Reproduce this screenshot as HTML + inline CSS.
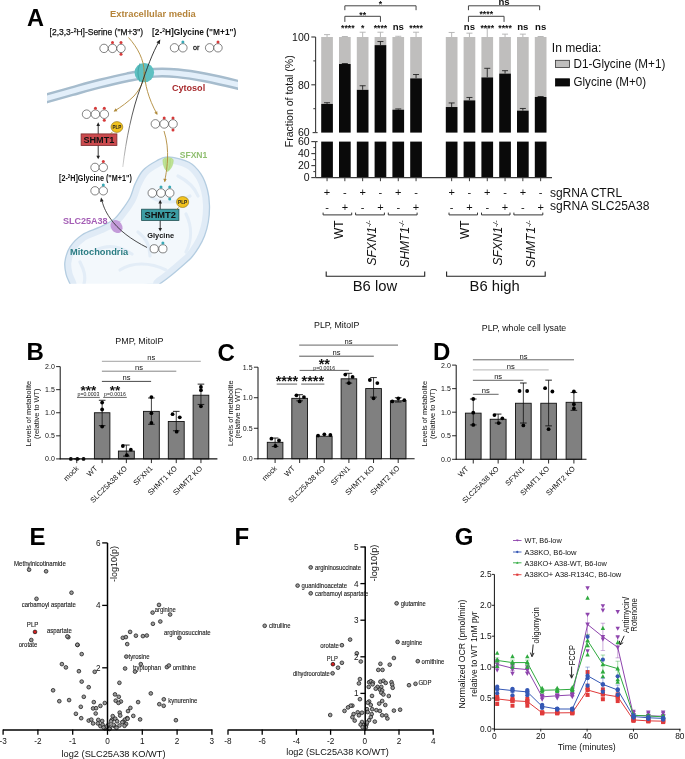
<!DOCTYPE html>
<html><head><meta charset="utf-8"><style>
html,body{margin:0;padding:0;background:#fff;}
svg{display:block;font-family:"Liberation Sans", sans-serif;}
.g{will-change:transform;}
</style></head><body>
<svg class="g" width="685" height="759" viewBox="0 0 685 759">
<rect width="685" height="759" fill="#fff"/>
<rect x="321.20" y="37.00" width="11.70" height="66.92" fill="#bfbebd" stroke="none" stroke-width="0" />
<rect x="321.20" y="103.92" width="11.70" height="28.68" fill="#0a0a0a" stroke="none" stroke-width="0" />
<rect x="321.20" y="141.60" width="11.70" height="36.00" fill="#0a0a0a" stroke="none" stroke-width="0" />
<line x1="327.05" y1="37.00" x2="327.05" y2="34.61" stroke="#b0b0b0" stroke-width="0.9" />
<line x1="324.05" y1="34.61" x2="330.05" y2="34.61" stroke="#b0b0b0" stroke-width="0.9" />
<line x1="327.05" y1="103.92" x2="327.05" y2="102.73" stroke="#222" stroke-width="0.9" />
<line x1="324.05" y1="102.73" x2="330.05" y2="102.73" stroke="#222" stroke-width="0.9" />
<rect x="339.00" y="37.00" width="11.70" height="27.01" fill="#bfbebd" stroke="none" stroke-width="0" />
<rect x="339.00" y="64.01" width="11.70" height="68.59" fill="#0a0a0a" stroke="none" stroke-width="0" />
<rect x="339.00" y="141.60" width="11.70" height="36.00" fill="#0a0a0a" stroke="none" stroke-width="0" />
<line x1="344.85" y1="37.00" x2="344.85" y2="36.52" stroke="#b0b0b0" stroke-width="0.9" />
<line x1="341.85" y1="36.52" x2="347.85" y2="36.52" stroke="#b0b0b0" stroke-width="0.9" />
<line x1="344.85" y1="64.01" x2="344.85" y2="63.53" stroke="#222" stroke-width="0.9" />
<line x1="341.85" y1="63.53" x2="347.85" y2="63.53" stroke="#222" stroke-width="0.9" />
<rect x="356.80" y="37.00" width="11.70" height="52.82" fill="#bfbebd" stroke="none" stroke-width="0" />
<rect x="356.80" y="89.82" width="11.70" height="42.78" fill="#0a0a0a" stroke="none" stroke-width="0" />
<rect x="356.80" y="141.60" width="11.70" height="36.00" fill="#0a0a0a" stroke="none" stroke-width="0" />
<line x1="362.65" y1="37.00" x2="362.65" y2="32.22" stroke="#b0b0b0" stroke-width="0.9" />
<line x1="359.65" y1="32.22" x2="365.65" y2="32.22" stroke="#b0b0b0" stroke-width="0.9" />
<line x1="362.65" y1="89.82" x2="362.65" y2="85.76" stroke="#222" stroke-width="0.9" />
<line x1="359.65" y1="85.76" x2="365.65" y2="85.76" stroke="#222" stroke-width="0.9" />
<rect x="374.60" y="37.00" width="11.70" height="8.13" fill="#bfbebd" stroke="none" stroke-width="0" />
<rect x="374.60" y="45.13" width="11.70" height="87.47" fill="#0a0a0a" stroke="none" stroke-width="0" />
<rect x="374.60" y="141.60" width="11.70" height="36.00" fill="#0a0a0a" stroke="none" stroke-width="0" />
<line x1="380.45" y1="37.00" x2="380.45" y2="32.22" stroke="#b0b0b0" stroke-width="0.9" />
<line x1="377.45" y1="32.22" x2="383.45" y2="32.22" stroke="#b0b0b0" stroke-width="0.9" />
<line x1="380.45" y1="45.13" x2="380.45" y2="41.54" stroke="#222" stroke-width="0.9" />
<line x1="377.45" y1="41.54" x2="383.45" y2="41.54" stroke="#222" stroke-width="0.9" />
<rect x="392.40" y="37.00" width="11.70" height="72.66" fill="#bfbebd" stroke="none" stroke-width="0" />
<rect x="392.40" y="109.66" width="11.70" height="22.94" fill="#0a0a0a" stroke="none" stroke-width="0" />
<rect x="392.40" y="141.60" width="11.70" height="36.00" fill="#0a0a0a" stroke="none" stroke-width="0" />
<line x1="398.25" y1="37.00" x2="398.25" y2="36.28" stroke="#b0b0b0" stroke-width="0.9" />
<line x1="395.25" y1="36.28" x2="401.25" y2="36.28" stroke="#b0b0b0" stroke-width="0.9" />
<line x1="398.25" y1="109.66" x2="398.25" y2="108.94" stroke="#222" stroke-width="0.9" />
<line x1="395.25" y1="108.94" x2="401.25" y2="108.94" stroke="#222" stroke-width="0.9" />
<rect x="410.20" y="37.00" width="11.70" height="41.35" fill="#bfbebd" stroke="none" stroke-width="0" />
<rect x="410.20" y="78.35" width="11.70" height="54.25" fill="#0a0a0a" stroke="none" stroke-width="0" />
<rect x="410.20" y="141.60" width="11.70" height="36.00" fill="#0a0a0a" stroke="none" stroke-width="0" />
<line x1="416.05" y1="37.00" x2="416.05" y2="32.22" stroke="#b0b0b0" stroke-width="0.9" />
<line x1="413.05" y1="32.22" x2="419.05" y2="32.22" stroke="#b0b0b0" stroke-width="0.9" />
<line x1="416.05" y1="78.35" x2="416.05" y2="74.52" stroke="#222" stroke-width="0.9" />
<line x1="413.05" y1="74.52" x2="419.05" y2="74.52" stroke="#222" stroke-width="0.9" />
<rect x="445.80" y="37.00" width="11.70" height="70.03" fill="#bfbebd" stroke="none" stroke-width="0" />
<rect x="445.80" y="107.03" width="11.70" height="25.57" fill="#0a0a0a" stroke="none" stroke-width="0" />
<rect x="445.80" y="141.60" width="11.70" height="36.00" fill="#0a0a0a" stroke="none" stroke-width="0" />
<line x1="451.65" y1="37.00" x2="451.65" y2="32.46" stroke="#b0b0b0" stroke-width="0.9" />
<line x1="448.65" y1="32.46" x2="454.65" y2="32.46" stroke="#b0b0b0" stroke-width="0.9" />
<line x1="451.65" y1="107.03" x2="451.65" y2="102.96" stroke="#222" stroke-width="0.9" />
<line x1="448.65" y1="102.96" x2="454.65" y2="102.96" stroke="#222" stroke-width="0.9" />
<rect x="463.60" y="37.00" width="11.70" height="63.34" fill="#bfbebd" stroke="none" stroke-width="0" />
<rect x="463.60" y="100.34" width="11.70" height="32.27" fill="#0a0a0a" stroke="none" stroke-width="0" />
<rect x="463.60" y="141.60" width="11.70" height="36.00" fill="#0a0a0a" stroke="none" stroke-width="0" />
<line x1="469.45" y1="37.00" x2="469.45" y2="33.18" stroke="#b0b0b0" stroke-width="0.9" />
<line x1="466.45" y1="33.18" x2="472.45" y2="33.18" stroke="#b0b0b0" stroke-width="0.9" />
<line x1="469.45" y1="100.34" x2="469.45" y2="97.47" stroke="#222" stroke-width="0.9" />
<line x1="466.45" y1="97.47" x2="472.45" y2="97.47" stroke="#222" stroke-width="0.9" />
<rect x="481.40" y="37.00" width="11.70" height="40.39" fill="#bfbebd" stroke="none" stroke-width="0" />
<rect x="481.40" y="77.39" width="11.70" height="55.21" fill="#0a0a0a" stroke="none" stroke-width="0" />
<rect x="481.40" y="141.60" width="11.70" height="36.00" fill="#0a0a0a" stroke="none" stroke-width="0" />
<line x1="487.25" y1="37.00" x2="487.25" y2="27.92" stroke="#b0b0b0" stroke-width="0.9" />
<line x1="484.25" y1="27.92" x2="490.25" y2="27.92" stroke="#b0b0b0" stroke-width="0.9" />
<line x1="487.25" y1="77.39" x2="487.25" y2="68.31" stroke="#222" stroke-width="0.9" />
<line x1="484.25" y1="68.31" x2="490.25" y2="68.31" stroke="#222" stroke-width="0.9" />
<rect x="499.20" y="37.00" width="11.70" height="36.57" fill="#bfbebd" stroke="none" stroke-width="0" />
<rect x="499.20" y="73.57" width="11.70" height="59.03" fill="#0a0a0a" stroke="none" stroke-width="0" />
<rect x="499.20" y="141.60" width="11.70" height="36.00" fill="#0a0a0a" stroke="none" stroke-width="0" />
<line x1="505.05" y1="37.00" x2="505.05" y2="34.13" stroke="#b0b0b0" stroke-width="0.9" />
<line x1="502.05" y1="34.13" x2="508.05" y2="34.13" stroke="#b0b0b0" stroke-width="0.9" />
<line x1="505.05" y1="73.57" x2="505.05" y2="70.70" stroke="#222" stroke-width="0.9" />
<line x1="502.05" y1="70.70" x2="508.05" y2="70.70" stroke="#222" stroke-width="0.9" />
<rect x="517.00" y="37.00" width="11.70" height="73.61" fill="#bfbebd" stroke="none" stroke-width="0" />
<rect x="517.00" y="110.61" width="11.70" height="21.99" fill="#0a0a0a" stroke="none" stroke-width="0" />
<rect x="517.00" y="141.60" width="11.70" height="36.00" fill="#0a0a0a" stroke="none" stroke-width="0" />
<line x1="522.85" y1="37.00" x2="522.85" y2="34.13" stroke="#b0b0b0" stroke-width="0.9" />
<line x1="519.85" y1="34.13" x2="525.85" y2="34.13" stroke="#b0b0b0" stroke-width="0.9" />
<line x1="522.85" y1="110.61" x2="522.85" y2="108.46" stroke="#222" stroke-width="0.9" />
<line x1="519.85" y1="108.46" x2="525.85" y2="108.46" stroke="#222" stroke-width="0.9" />
<rect x="534.80" y="37.00" width="11.70" height="59.99" fill="#bfbebd" stroke="none" stroke-width="0" />
<rect x="534.80" y="96.99" width="11.70" height="35.61" fill="#0a0a0a" stroke="none" stroke-width="0" />
<rect x="534.80" y="141.60" width="11.70" height="36.00" fill="#0a0a0a" stroke="none" stroke-width="0" />
<line x1="540.65" y1="37.00" x2="540.65" y2="36.52" stroke="#b0b0b0" stroke-width="0.9" />
<line x1="537.65" y1="36.52" x2="543.65" y2="36.52" stroke="#b0b0b0" stroke-width="0.9" />
<line x1="540.65" y1="96.99" x2="540.65" y2="96.51" stroke="#222" stroke-width="0.9" />
<line x1="537.65" y1="96.51" x2="543.65" y2="96.51" stroke="#222" stroke-width="0.9" />
<line x1="315.60" y1="37.00" x2="315.60" y2="132.60" stroke="#3a3a3a" stroke-width="1.1" />
<line x1="311.30" y1="37.00" x2="315.60" y2="37.00" stroke="#3a3a3a" stroke-width="1.1" />
<line x1="311.30" y1="84.80" x2="315.60" y2="84.80" stroke="#3a3a3a" stroke-width="1.1" />
<line x1="312.60" y1="132.60" x2="315.60" y2="132.60" stroke="#3a3a3a" stroke-width="1.1" />
<line x1="315.60" y1="132.60" x2="317.60" y2="132.60" stroke="#3a3a3a" stroke-width="1.1" />
<line x1="313.30" y1="60.90" x2="315.60" y2="60.90" stroke="#3a3a3a" stroke-width="1" />
<line x1="313.30" y1="108.70" x2="315.60" y2="108.70" stroke="#3a3a3a" stroke-width="1" />
<line x1="315.60" y1="141.60" x2="315.60" y2="177.60" stroke="#3a3a3a" stroke-width="1.1" />
<line x1="315.60" y1="141.60" x2="317.60" y2="141.60" stroke="#3a3a3a" stroke-width="1.1" />
<line x1="311.30" y1="141.60" x2="315.60" y2="141.60" stroke="#3a3a3a" stroke-width="1.1" />
<line x1="311.30" y1="153.60" x2="315.60" y2="153.60" stroke="#3a3a3a" stroke-width="1.1" />
<line x1="311.30" y1="165.60" x2="315.60" y2="165.60" stroke="#3a3a3a" stroke-width="1.1" />
<line x1="311.30" y1="177.60" x2="315.60" y2="177.60" stroke="#3a3a3a" stroke-width="1.1" />
<line x1="313.30" y1="147.60" x2="315.60" y2="147.60" stroke="#3a3a3a" stroke-width="1" />
<line x1="313.30" y1="159.60" x2="315.60" y2="159.60" stroke="#3a3a3a" stroke-width="1" />
<line x1="313.30" y1="171.60" x2="315.60" y2="171.60" stroke="#3a3a3a" stroke-width="1" />
<line x1="315.60" y1="177.60" x2="552.00" y2="177.60" stroke="#3a3a3a" stroke-width="1.1" />
<line x1="327.05" y1="177.60" x2="327.05" y2="181.20" stroke="#3a3a3a" stroke-width="1" />
<line x1="344.85" y1="177.60" x2="344.85" y2="181.20" stroke="#3a3a3a" stroke-width="1" />
<line x1="362.65" y1="177.60" x2="362.65" y2="181.20" stroke="#3a3a3a" stroke-width="1" />
<line x1="380.45" y1="177.60" x2="380.45" y2="181.20" stroke="#3a3a3a" stroke-width="1" />
<line x1="398.25" y1="177.60" x2="398.25" y2="181.20" stroke="#3a3a3a" stroke-width="1" />
<line x1="416.05" y1="177.60" x2="416.05" y2="181.20" stroke="#3a3a3a" stroke-width="1" />
<line x1="451.65" y1="177.60" x2="451.65" y2="181.20" stroke="#3a3a3a" stroke-width="1" />
<line x1="469.45" y1="177.60" x2="469.45" y2="181.20" stroke="#3a3a3a" stroke-width="1" />
<line x1="487.25" y1="177.60" x2="487.25" y2="181.20" stroke="#3a3a3a" stroke-width="1" />
<line x1="505.05" y1="177.60" x2="505.05" y2="181.20" stroke="#3a3a3a" stroke-width="1" />
<line x1="522.85" y1="177.60" x2="522.85" y2="181.20" stroke="#3a3a3a" stroke-width="1" />
<line x1="540.65" y1="177.60" x2="540.65" y2="181.20" stroke="#3a3a3a" stroke-width="1" />
<text x="309.60" y="40.80" font-size="10.5" text-anchor="end" fill="#111" >100</text>
<text x="309.60" y="88.60" font-size="10.5" text-anchor="end" fill="#111" >80</text>
<text x="309.60" y="136.40" font-size="10.5" text-anchor="end" fill="#111" >60</text>
<text x="309.60" y="145.40" font-size="10.5" text-anchor="end" fill="#111" >60</text>
<text x="309.60" y="157.40" font-size="10.5" text-anchor="end" fill="#111" >40</text>
<text x="309.60" y="169.40" font-size="10.5" text-anchor="end" fill="#111" >20</text>
<text x="309.60" y="181.40" font-size="10.5" text-anchor="end" fill="#111" >0</text>
<text x="293.20" y="101.30" font-size="10.5" text-anchor="middle" fill="#111" textLength="92.00" lengthAdjust="spacingAndGlyphs" transform="rotate(-90 293.20 101.30)" >Fraction of total (%)</text>
<text x="347.85" y="31.20" font-size="8.7" text-anchor="middle" fill="#111" font-weight="bold" >****</text>
<text x="362.65" y="31.20" font-size="8.7" text-anchor="middle" fill="#111" font-weight="bold" >*</text>
<text x="380.45" y="31.20" font-size="8.7" text-anchor="middle" fill="#111" font-weight="bold" >****</text>
<text x="398.25" y="29.60" font-size="9.6" text-anchor="middle" fill="#111" font-weight="bold" >ns</text>
<text x="416.05" y="31.20" font-size="8.7" text-anchor="middle" fill="#111" font-weight="bold" >****</text>
<text x="469.45" y="29.60" font-size="9.6" text-anchor="middle" fill="#111" font-weight="bold" >ns</text>
<text x="487.25" y="31.20" font-size="8.7" text-anchor="middle" fill="#111" font-weight="bold" >****</text>
<text x="505.05" y="31.20" font-size="8.7" text-anchor="middle" fill="#111" font-weight="bold" >****</text>
<text x="522.85" y="29.60" font-size="9.6" text-anchor="middle" fill="#111" font-weight="bold" >ns</text>
<text x="540.65" y="29.60" font-size="9.6" text-anchor="middle" fill="#111" font-weight="bold" >ns</text>
<path d="M344.85 21.90V16.30H380.45V21.90" fill="none" stroke="#444" stroke-width="1"/>
<text x="362.65" y="17.60" font-size="8.7" text-anchor="middle" fill="#111" font-weight="bold" >**</text>
<path d="M344.85 10.20V5.80H416.05V10.20" fill="none" stroke="#444" stroke-width="1"/>
<text x="380.45" y="7.00" font-size="8.7" text-anchor="middle" fill="#111" font-weight="bold" >*</text>
<path d="M468.45 21.90V16.30H504.05V21.90" fill="none" stroke="#444" stroke-width="1"/>
<text x="486.25" y="17.20" font-size="8.7" text-anchor="middle" fill="#111" font-weight="bold" >****</text>
<path d="M468.45 10.20V5.80H539.65V10.20" fill="none" stroke="#444" stroke-width="1"/>
<text x="504.05" y="5.00" font-size="9.6" text-anchor="middle" fill="#111" font-weight="bold" >ns</text>
<text x="551.80" y="52.00" font-size="12" text-anchor="start" fill="#111" textLength="49.50" lengthAdjust="spacingAndGlyphs" >In media:</text>
<rect x="555.60" y="60.30" width="14.00" height="7.20" fill="#bfbebd" stroke="#333" stroke-width="0.8" />
<text x="573.50" y="67.50" font-size="12" text-anchor="start" fill="#111" textLength="91.80" lengthAdjust="spacingAndGlyphs" >D1-Glycine (M+1)</text>
<rect x="555.60" y="78.80" width="14.00" height="7.20" fill="#0a0a0a" stroke="#000" stroke-width="0.8" />
<text x="573.50" y="86.40" font-size="12" text-anchor="start" fill="#111" textLength="72.50" lengthAdjust="spacingAndGlyphs" >Glycine (M+0)</text>
<text x="327.05" y="195.80" font-size="11" text-anchor="middle" fill="#111" >+</text>
<text x="327.05" y="210.60" font-size="11" text-anchor="middle" fill="#111" >-</text>
<text x="344.85" y="195.80" font-size="11" text-anchor="middle" fill="#111" >-</text>
<text x="344.85" y="210.60" font-size="11" text-anchor="middle" fill="#111" >+</text>
<text x="362.65" y="195.80" font-size="11" text-anchor="middle" fill="#111" >+</text>
<text x="362.65" y="210.60" font-size="11" text-anchor="middle" fill="#111" >-</text>
<text x="380.45" y="195.80" font-size="11" text-anchor="middle" fill="#111" >-</text>
<text x="380.45" y="210.60" font-size="11" text-anchor="middle" fill="#111" >+</text>
<text x="398.25" y="195.80" font-size="11" text-anchor="middle" fill="#111" >+</text>
<text x="398.25" y="210.60" font-size="11" text-anchor="middle" fill="#111" >-</text>
<text x="416.05" y="195.80" font-size="11" text-anchor="middle" fill="#111" >-</text>
<text x="416.05" y="210.60" font-size="11" text-anchor="middle" fill="#111" >+</text>
<text x="451.65" y="195.80" font-size="11" text-anchor="middle" fill="#111" >+</text>
<text x="451.65" y="210.60" font-size="11" text-anchor="middle" fill="#111" >-</text>
<text x="469.45" y="195.80" font-size="11" text-anchor="middle" fill="#111" >-</text>
<text x="469.45" y="210.60" font-size="11" text-anchor="middle" fill="#111" >+</text>
<text x="487.25" y="195.80" font-size="11" text-anchor="middle" fill="#111" >+</text>
<text x="487.25" y="210.60" font-size="11" text-anchor="middle" fill="#111" >-</text>
<text x="505.05" y="195.80" font-size="11" text-anchor="middle" fill="#111" >-</text>
<text x="505.05" y="210.60" font-size="11" text-anchor="middle" fill="#111" >+</text>
<text x="522.85" y="195.80" font-size="11" text-anchor="middle" fill="#111" >+</text>
<text x="522.85" y="210.60" font-size="11" text-anchor="middle" fill="#111" >-</text>
<text x="540.65" y="195.80" font-size="11" text-anchor="middle" fill="#111" >-</text>
<text x="540.65" y="210.60" font-size="11" text-anchor="middle" fill="#111" >+</text>
<text x="549.90" y="196.50" font-size="12" text-anchor="start" fill="#111" textLength="72.20" lengthAdjust="spacingAndGlyphs" >sgRNA CTRL</text>
<text x="549.90" y="210.20" font-size="12" text-anchor="start" fill="#111" textLength="99.50" lengthAdjust="spacingAndGlyphs" >sgRNA SLC25A38</text>
<path d="M323.10 212.6V214.9H351.70V212.6" fill="none" stroke="#333" stroke-width="1"/>
<path d="M355.60 212.6V214.9H384.40V212.6" fill="none" stroke="#333" stroke-width="1"/>
<path d="M388.30 212.6V214.9H417.10V212.6" fill="none" stroke="#333" stroke-width="1"/>
<path d="M449.00 212.6V214.9H477.50V212.6" fill="none" stroke="#333" stroke-width="1"/>
<path d="M481.50 212.6V214.9H510.00V212.6" fill="none" stroke="#333" stroke-width="1"/>
<path d="M513.90 212.6V214.9H542.80V212.6" fill="none" stroke="#333" stroke-width="1"/>
<text x="343.20" y="220.30" font-size="12" text-anchor="end" fill="#111" transform="rotate(-90 343.20 220.30)" >WT</text>
<text x="375.90" y="220.30" font-size="12" text-anchor="end" fill="#111" font-style="italic" transform="rotate(-90 375.90 220.30)" >SFXN1<tspan font-size="7" dy="-4.5">-/-</tspan></text>
<text x="408.60" y="220.30" font-size="12" text-anchor="end" fill="#111" font-style="italic" transform="rotate(-90 408.60 220.30)" >SHMT1<tspan font-size="7" dy="-4.5">-/-</tspan></text>
<text x="469.40" y="220.30" font-size="12" text-anchor="end" fill="#111" transform="rotate(-90 469.40 220.30)" >WT</text>
<text x="502.30" y="220.30" font-size="12" text-anchor="end" fill="#111" font-style="italic" transform="rotate(-90 502.30 220.30)" >SFXN1<tspan font-size="7" dy="-4.5">-/-</tspan></text>
<text x="535.10" y="220.30" font-size="12" text-anchor="end" fill="#111" font-style="italic" transform="rotate(-90 535.10 220.30)" >SHMT1<tspan font-size="7" dy="-4.5">-/-</tspan></text>
<path d="M326.2 271.6V276.3H424.7V271.6" fill="none" stroke="#222" stroke-width="1.1"/>
<path d="M446.6 271.6V276.2H545.2V271.6" fill="none" stroke="#222" stroke-width="1.1"/>
<text x="374.90" y="290.80" font-size="14.8" text-anchor="middle" fill="#111" >B6 low</text>
<text x="494.70" y="290.80" font-size="14.8" text-anchor="middle" fill="#111" >B6 high</text>
<defs><clipPath id="memclip"><rect x="46.9" y="40" width="191.2" height="80"/></clipPath></defs>
<g clip-path="url(#memclip)"><path d="M38.00 101.00C39.48 100.55 41.28 99.92 46.90 98.30C52.52 96.68 62.93 93.73 71.70 91.30C80.47 88.87 90.25 86.03 99.50 83.70C108.75 81.37 118.08 79.12 127.20 77.30C136.32 75.48 145.78 73.47 154.20 72.80C162.62 72.13 169.15 72.52 177.70 73.30C186.25 74.08 195.43 75.58 205.50 77.50C215.57 79.42 231.35 83.17 238.10 84.80C244.85 86.43 244.68 86.88 246.00 87.30" fill="none" stroke="#a6bccd" stroke-width="10"/>
<path d="M38.00 101.00C39.48 100.55 41.28 99.92 46.90 98.30C52.52 96.68 62.93 93.73 71.70 91.30C80.47 88.87 90.25 86.03 99.50 83.70C108.75 81.37 118.08 79.12 127.20 77.30C136.32 75.48 145.78 73.47 154.20 72.80C162.62 72.13 169.15 72.52 177.70 73.30C186.25 74.08 195.43 75.58 205.50 77.50C215.57 79.42 231.35 83.17 238.10 84.80C244.85 86.43 244.68 86.88 246.00 87.30" fill="none" stroke="#e3effa" stroke-width="5.2"/></g>
<defs><clipPath id="mclip"><rect x="0" y="0" width="280" height="283.8"/></clipPath><clipPath id="minner"><path d="M168.10 156.80C173.55 157.02 183.52 159.40 189.00 162.30C194.48 165.20 197.92 169.58 201.00 174.20C204.08 178.82 206.08 184.75 207.50 190.00C208.92 195.25 209.37 200.37 209.50 205.70C209.63 211.03 209.13 216.95 208.30 222.00C207.47 227.05 206.07 231.82 204.50 236.00C202.93 240.18 201.07 243.52 198.90 247.10C196.73 250.68 194.03 254.57 191.50 257.50C188.97 260.43 187.22 261.62 183.70 264.70C180.18 267.78 174.32 272.85 170.40 276.00C166.48 279.15 163.60 281.27 160.20 283.60C156.80 285.93 164.70 288.60 150.00 290.00C135.30 291.40 85.35 293.03 72.00 292.00C58.65 290.97 70.88 286.73 69.90 283.80C68.92 280.87 66.93 278.03 66.10 274.40C65.27 270.77 64.27 266.55 64.90 262.00C65.53 257.45 67.00 251.65 69.90 247.10C72.80 242.55 77.35 238.02 82.30 234.70C87.25 231.38 94.43 229.68 99.60 227.20C104.77 224.72 109.57 222.68 113.30 219.80C117.03 216.92 119.22 213.57 122.00 209.90C124.78 206.23 127.78 202.22 130.00 197.80C132.22 193.38 133.12 188.00 135.30 183.40C137.48 178.80 139.60 173.93 143.10 170.20C146.60 166.47 152.13 163.23 156.30 161.00C160.47 158.77 162.65 156.58 168.10 156.80Z"/></clipPath></defs>
<g clip-path="url(#mclip)">
<path d="M168.10 156.80C173.55 157.02 183.52 159.40 189.00 162.30C194.48 165.20 197.92 169.58 201.00 174.20C204.08 178.82 206.08 184.75 207.50 190.00C208.92 195.25 209.37 200.37 209.50 205.70C209.63 211.03 209.13 216.95 208.30 222.00C207.47 227.05 206.07 231.82 204.50 236.00C202.93 240.18 201.07 243.52 198.90 247.10C196.73 250.68 194.03 254.57 191.50 257.50C188.97 260.43 187.22 261.62 183.70 264.70C180.18 267.78 174.32 272.85 170.40 276.00C166.48 279.15 163.60 281.27 160.20 283.60C156.80 285.93 164.70 288.60 150.00 290.00C135.30 291.40 85.35 293.03 72.00 292.00C58.65 290.97 70.88 286.73 69.90 283.80C68.92 280.87 66.93 278.03 66.10 274.40C65.27 270.77 64.27 266.55 64.90 262.00C65.53 257.45 67.00 251.65 69.90 247.10C72.80 242.55 77.35 238.02 82.30 234.70C87.25 231.38 94.43 229.68 99.60 227.20C104.77 224.72 109.57 222.68 113.30 219.80C117.03 216.92 119.22 213.57 122.00 209.90C124.78 206.23 127.78 202.22 130.00 197.80C132.22 193.38 133.12 188.00 135.30 183.40C137.48 178.80 139.60 173.93 143.10 170.20C146.60 166.47 152.13 163.23 156.30 161.00C160.47 158.77 162.65 156.58 168.10 156.80Z" fill="#f3f8fc"/>
<g clip-path="url(#minner)">
<path d="M168.10 156.80C173.55 157.02 183.52 159.40 189.00 162.30C194.48 165.20 197.92 169.58 201.00 174.20C204.08 178.82 206.08 184.75 207.50 190.00C208.92 195.25 209.37 200.37 209.50 205.70C209.63 211.03 209.13 216.95 208.30 222.00C207.47 227.05 206.07 231.82 204.50 236.00C202.93 240.18 201.07 243.52 198.90 247.10C196.73 250.68 194.03 254.57 191.50 257.50C188.97 260.43 187.22 261.62 183.70 264.70C180.18 267.78 174.32 272.85 170.40 276.00C166.48 279.15 163.60 281.27 160.20 283.60C156.80 285.93 164.70 288.60 150.00 290.00C135.30 291.40 85.35 293.03 72.00 292.00C58.65 290.97 70.88 286.73 69.90 283.80C68.92 280.87 66.93 278.03 66.10 274.40C65.27 270.77 64.27 266.55 64.90 262.00C65.53 257.45 67.00 251.65 69.90 247.10C72.80 242.55 77.35 238.02 82.30 234.70C87.25 231.38 94.43 229.68 99.60 227.20C104.77 224.72 109.57 222.68 113.30 219.80C117.03 216.92 119.22 213.57 122.00 209.90C124.78 206.23 127.78 202.22 130.00 197.80C132.22 193.38 133.12 188.00 135.30 183.40C137.48 178.80 139.60 173.93 143.10 170.20C146.60 166.47 152.13 163.23 156.30 161.00C160.47 158.77 162.65 156.58 168.10 156.80Z" fill="none" stroke="#e0ebf6" stroke-width="13"/>
<path d="M168.10 156.80C173.55 157.02 183.52 159.40 189.00 162.30C194.48 165.20 197.92 169.58 201.00 174.20C204.08 178.82 206.08 184.75 207.50 190.00C208.92 195.25 209.37 200.37 209.50 205.70C209.63 211.03 209.13 216.95 208.30 222.00C207.47 227.05 206.07 231.82 204.50 236.00C202.93 240.18 201.07 243.52 198.90 247.10C196.73 250.68 194.03 254.57 191.50 257.50C188.97 260.43 187.22 261.62 183.70 264.70C180.18 267.78 174.32 272.85 170.40 276.00C166.48 279.15 163.60 281.27 160.20 283.60C156.80 285.93 164.70 288.60 150.00 290.00C135.30 291.40 85.35 293.03 72.00 292.00C58.65 290.97 70.88 286.73 69.90 283.80C68.92 280.87 66.93 278.03 66.10 274.40C65.27 270.77 64.27 266.55 64.90 262.00C65.53 257.45 67.00 251.65 69.90 247.10C72.80 242.55 77.35 238.02 82.30 234.70C87.25 231.38 94.43 229.68 99.60 227.20C104.77 224.72 109.57 222.68 113.30 219.80C117.03 216.92 119.22 213.57 122.00 209.90C124.78 206.23 127.78 202.22 130.00 197.80C132.22 193.38 133.12 188.00 135.30 183.40C137.48 178.80 139.60 173.93 143.10 170.20C146.60 166.47 152.13 163.23 156.30 161.00C160.47 158.77 162.65 156.58 168.10 156.80Z" fill="none" stroke="#edf4fa" stroke-width="4.5" transform="translate(0 0)" opacity="0"/>
<path d="M150 196 C160 204 176 204 190 196" fill="none" stroke="#e3edf7" stroke-width="3.2" stroke-linecap="round"/>
<path d="M186 214 C192 226 192 240 186 252" fill="none" stroke="#e3edf7" stroke-width="3.2" stroke-linecap="round"/>
<path d="M96 250 C108 244 120 246 132 254" fill="none" stroke="#e3edf7" stroke-width="3.2" stroke-linecap="round"/>
<path d="M120 270 C132 262 150 262 166 270" fill="none" stroke="#e3edf7" stroke-width="3.2" stroke-linecap="round"/>
<path d="M138 232 C146 238 150 246 150 256" fill="none" stroke="#e3edf7" stroke-width="3.2" stroke-linecap="round"/>
<path d="M80 262 C84 270 86 276 84 284" fill="none" stroke="#e3edf7" stroke-width="3.2" stroke-linecap="round"/>
<path d="M178 176 C186 180 194 186 198 196" fill="none" stroke="#e3edf7" stroke-width="3.2" stroke-linecap="round"/>
</g>
<path d="M168.10 156.80C173.55 157.02 183.52 159.40 189.00 162.30C194.48 165.20 197.92 169.58 201.00 174.20C204.08 178.82 206.08 184.75 207.50 190.00C208.92 195.25 209.37 200.37 209.50 205.70C209.63 211.03 209.13 216.95 208.30 222.00C207.47 227.05 206.07 231.82 204.50 236.00C202.93 240.18 201.07 243.52 198.90 247.10C196.73 250.68 194.03 254.57 191.50 257.50C188.97 260.43 187.22 261.62 183.70 264.70C180.18 267.78 174.32 272.85 170.40 276.00C166.48 279.15 163.60 281.27 160.20 283.60C156.80 285.93 164.70 288.60 150.00 290.00C135.30 291.40 85.35 293.03 72.00 292.00C58.65 290.97 70.88 286.73 69.90 283.80C68.92 280.87 66.93 278.03 66.10 274.40C65.27 270.77 64.27 266.55 64.90 262.00C65.53 257.45 67.00 251.65 69.90 247.10C72.80 242.55 77.35 238.02 82.30 234.70C87.25 231.38 94.43 229.68 99.60 227.20C104.77 224.72 109.57 222.68 113.30 219.80C117.03 216.92 119.22 213.57 122.00 209.90C124.78 206.23 127.78 202.22 130.00 197.80C132.22 193.38 133.12 188.00 135.30 183.40C137.48 178.80 139.60 173.93 143.10 170.20C146.60 166.47 152.13 163.23 156.30 161.00C160.47 158.77 162.65 156.58 168.10 156.80Z" fill="none" stroke="#b4cde1" stroke-width="1.3"/>
</g>
<ellipse cx="144.3" cy="72.6" rx="9.8" ry="9.7" fill="#5ec0c1"/>
<path d="M140 63.5 Q136 72.6 140 81.7" fill="none" stroke="#3f9fa3" stroke-width="1.2" opacity="0.7"/>
<path d="M162.9 160.5 C162.6 156.6 173.6 156.4 173.3 160.8 C173.1 165 171 169.6 167.6 171.6 C164.4 169.8 163.1 165 162.9 160.5Z" fill="#bfe395" stroke="#a9d47f" stroke-width="0.5"/>
<path d="M166 159 C165.5 163 166 167 167 170 M170 159 C170.5 163 170 167 168.5 170" fill="none" stroke="#9fcb74" stroke-width="0.6" opacity="0.8"/>
<ellipse cx="116.5" cy="226.6" rx="5.6" ry="6.9" fill="#c39bd9" transform="rotate(-35 116.5 226.6)"/>
<path d="M128.5 37.5 C138 48 144 60 144.2 72 C144.5 80 141 88 134 96 C128 102 121 107 114.5 111" fill="none" stroke="#b08a3a" stroke-width="0.9"/>
<path d="M144.2 72 C145 84 148 98 157 114" fill="none" stroke="#b08a3a" stroke-width="0.9"/>
<path d="M164 131 C167 140 168 150 167.5 160 C167 170 165.5 176 164.8 181.5" fill="none" stroke="#b08a3a" stroke-width="0.9"/>
<path d="M113.60 111.40L115.69 108.23L117.39 111.17Z" fill="#b08a3a"/>
<path d="M157.40 115.00L154.30 112.80L157.30 111.20Z" fill="#b08a3a"/>
<path d="M164.70 182.20L163.30 178.66L166.69 178.96Z" fill="#b08a3a"/>
<defs><linearGradient id="blg" x1="0" y1="167" x2="0" y2="40" gradientUnits="userSpaceOnUse"><stop offset="0" stop-color="#d0d0d0"/><stop offset="0.25" stop-color="#777"/><stop offset="0.5" stop-color="#333"/><stop offset="1" stop-color="#222"/></linearGradient></defs>
<path d="M122.8 167 C126 140 132 110 141 86 C147 68 152 54 159.5 40.5" fill="none" stroke="url(#blg)" stroke-width="0.9"/>
<path d="M160.30 39.60L159.69 44.17L156.46 42.15Z" fill="#222"/>
<path d="M147 247.5 C132 240 118 230 110 218 C105 211 103 205 101.6 199.5" fill="none" stroke="#2a2a2a" stroke-width="0.85"/>
<path d="M101.10 197.40L103.70 201.21L99.96 201.87Z" fill="#222"/>
<line x1="98.20" y1="124.00" x2="98.20" y2="158.00" stroke="#222" stroke-width="0.9" />
<path d="M98.20 122.30L100.00 125.90L96.40 125.90Z" fill="#222"/>
<path d="M98.20 159.30L96.40 155.70L100.00 155.70Z" fill="#222"/>
<line x1="160.20" y1="201.50" x2="160.20" y2="230.00" stroke="#222" stroke-width="0.9" />
<path d="M160.20 199.80L162.00 203.40L158.40 203.40Z" fill="#222"/>
<path d="M160.20 231.50L158.40 227.90L162.00 227.90Z" fill="#222"/>
<rect x="81.10" y="133.90" width="35.80" height="11.60" fill="#cc4a4e" stroke="#7a2a2c" stroke-width="0.8" />
<text x="98.90" y="142.60" font-size="9.1" text-anchor="middle" fill="#111" font-weight="bold" textLength="30.90" lengthAdjust="spacingAndGlyphs" >SHMT1</text>
<rect x="141.60" y="209.20" width="37.30" height="11.20" fill="#3c9da4" stroke="#1f4f53" stroke-width="0.8" />
<text x="160.20" y="217.80" font-size="9.3" text-anchor="middle" fill="#111" font-weight="bold" textLength="31.50" lengthAdjust="spacingAndGlyphs" >SHMT2</text>
<line x1="112.50" y1="131.80" x2="110.50" y2="134.00" stroke="#a08020" stroke-width="0.8" />
<ellipse cx="116.9" cy="127" rx="5.9" ry="5.4" fill="#f1c21e" stroke="#8a6d10" stroke-width="0.6"/>
<text x="116.90" y="128.90" font-size="4.6" text-anchor="middle" fill="#222" font-weight="bold" >PLP</text>
<line x1="178.50" y1="207.50" x2="176.50" y2="209.50" stroke="#a08020" stroke-width="0.8" />
<ellipse cx="182.6" cy="202" rx="6.1" ry="5.5" fill="#f1c21e" stroke="#8a6d10" stroke-width="0.6"/>
<text x="182.60" y="203.90" font-size="4.7" text-anchor="middle" fill="#222" font-weight="bold" >PLP</text>
<circle cx="104.00" cy="48.40" r="4.2" fill="#fff" stroke="#333" stroke-width="0.6"/>
<circle cx="112.50" cy="48.40" r="4.2" fill="#fff" stroke="#333" stroke-width="0.6"/>
<circle cx="121.00" cy="48.40" r="4.2" fill="#fff" stroke="#333" stroke-width="0.6"/>
<circle cx="112.50" cy="42.50" r="1.5" fill="#d63a3a" stroke="none" stroke-width="0"/>
<circle cx="121.00" cy="42.50" r="1.5" fill="#d63a3a" stroke="none" stroke-width="0"/>
<circle cx="121.00" cy="54.30" r="1.5" fill="#d63a3a" stroke="none" stroke-width="0"/>
<circle cx="174.50" cy="47.80" r="4.2" fill="#fff" stroke="#333" stroke-width="0.6"/>
<circle cx="182.90" cy="47.80" r="4.2" fill="#fff" stroke="#333" stroke-width="0.6"/>
<circle cx="182.90" cy="41.90" r="1.5" fill="#3aa9b6" stroke="none" stroke-width="0"/>
<circle cx="209.60" cy="47.80" r="4.2" fill="#fff" stroke="#333" stroke-width="0.6"/>
<circle cx="218.00" cy="47.80" r="4.2" fill="#fff" stroke="#333" stroke-width="0.6"/>
<circle cx="218.00" cy="41.90" r="1.5" fill="#d63a3a" stroke="none" stroke-width="0"/>
<text x="196.30" y="50.30" font-size="7.2" text-anchor="middle" fill="#222" stroke="#222" stroke-width="0.3">or</text>
<circle cx="86.60" cy="114.20" r="4.3" fill="#fff" stroke="#333" stroke-width="0.6"/>
<circle cx="95.45" cy="114.20" r="4.3" fill="#fff" stroke="#333" stroke-width="0.6"/>
<circle cx="104.30" cy="114.20" r="4.3" fill="#fff" stroke="#333" stroke-width="0.6"/>
<circle cx="95.45" cy="108.20" r="1.5" fill="#d63a3a" stroke="none" stroke-width="0"/>
<circle cx="104.30" cy="108.20" r="1.5" fill="#d63a3a" stroke="none" stroke-width="0"/>
<circle cx="104.30" cy="120.20" r="1.5" fill="#d63a3a" stroke="none" stroke-width="0"/>
<circle cx="155.40" cy="123.90" r="4.3" fill="#fff" stroke="#333" stroke-width="0.6"/>
<circle cx="164.20" cy="123.90" r="4.3" fill="#fff" stroke="#333" stroke-width="0.6"/>
<circle cx="173.00" cy="123.90" r="4.3" fill="#fff" stroke="#333" stroke-width="0.6"/>
<circle cx="164.20" cy="117.90" r="1.5" fill="#d63a3a" stroke="none" stroke-width="0"/>
<circle cx="173.00" cy="117.90" r="1.5" fill="#d63a3a" stroke="none" stroke-width="0"/>
<circle cx="173.00" cy="129.90" r="1.5" fill="#d63a3a" stroke="none" stroke-width="0"/>
<circle cx="95.00" cy="167.40" r="4.2" fill="#fff" stroke="#333" stroke-width="0.6"/>
<circle cx="103.30" cy="167.40" r="4.2" fill="#fff" stroke="#333" stroke-width="0.6"/>
<circle cx="103.30" cy="161.50" r="1.5" fill="#d63a3a" stroke="none" stroke-width="0"/>
<circle cx="95.00" cy="190.80" r="4.2" fill="#fff" stroke="#333" stroke-width="0.6"/>
<circle cx="103.30" cy="190.80" r="4.2" fill="#fff" stroke="#333" stroke-width="0.6"/>
<circle cx="103.30" cy="184.90" r="1.5" fill="#3aa9b6" stroke="none" stroke-width="0"/>
<circle cx="152.30" cy="193.00" r="4.3" fill="#fff" stroke="#333" stroke-width="0.6"/>
<circle cx="161.00" cy="193.00" r="4.3" fill="#fff" stroke="#333" stroke-width="0.6"/>
<circle cx="169.70" cy="193.00" r="4.3" fill="#fff" stroke="#333" stroke-width="0.6"/>
<circle cx="161.00" cy="187.00" r="1.5" fill="#3aa9b6" stroke="none" stroke-width="0"/>
<circle cx="169.70" cy="187.00" r="1.5" fill="#3aa9b6" stroke="none" stroke-width="0"/>
<circle cx="169.70" cy="199.00" r="1.5" fill="#3aa9b6" stroke="none" stroke-width="0"/>
<circle cx="154.20" cy="248.80" r="4.1" fill="#fff" stroke="#333" stroke-width="0.6"/>
<circle cx="162.90" cy="248.80" r="4.1" fill="#fff" stroke="#333" stroke-width="0.6"/>
<circle cx="162.90" cy="243.00" r="1.5" fill="#3aa9b6" stroke="none" stroke-width="0"/>
<text x="27.00" y="26.20" font-size="24.5" text-anchor="start" fill="#000" font-weight="bold" textLength="17.00" lengthAdjust="spacingAndGlyphs" >A</text>
<text x="110.00" y="17.40" font-size="9.4" text-anchor="start" fill="#b5843a" font-weight="bold" textLength="85.80" lengthAdjust="spacingAndGlyphs" >Extracellular media</text>
<text x="49.60" y="34.90" font-size="9.2" text-anchor="start" fill="#111" textLength="93.40" lengthAdjust="spacingAndGlyphs" stroke="#111" stroke-width="0.25">[2,3,3-<tspan font-size="5.5" dy="-3">2</tspan><tspan dy="3">H]-Serine ("M+3")</tspan></text>
<text x="152.00" y="34.90" font-size="9.2" text-anchor="start" fill="#111" font-weight="bold" textLength="84.30" lengthAdjust="spacingAndGlyphs" >[2-<tspan font-size="5.5" dy="-3">2</tspan><tspan dy="3">H]Glycine ("M+1")</tspan></text>
<text x="171.90" y="91.40" font-size="9.1" text-anchor="start" fill="#a82c2f" font-weight="bold" textLength="33.30" lengthAdjust="spacingAndGlyphs" >Cytosol</text>
<text x="179.70" y="157.70" font-size="8.6" text-anchor="start" fill="#90bf70" font-weight="bold" textLength="27.60" lengthAdjust="spacingAndGlyphs" >SFXN1</text>
<text x="59.00" y="181.00" font-size="9.0" text-anchor="start" fill="#111" font-weight="bold" textLength="72.80" lengthAdjust="spacingAndGlyphs" >[2-<tspan font-size="5.5" dy="-3">2</tspan><tspan dy="3">H]Glycine ("M+1")</tspan></text>
<text x="62.90" y="224.30" font-size="9.0" text-anchor="start" fill="#a45db5" font-weight="bold" textLength="44.70" lengthAdjust="spacingAndGlyphs" >SLC25A38</text>
<text x="69.90" y="255.00" font-size="9.3" text-anchor="start" fill="#2b7d83" font-weight="bold" textLength="58.30" lengthAdjust="spacingAndGlyphs" >Mitochondria</text>
<text x="147.30" y="237.90" font-size="7.5" text-anchor="start" fill="#111" font-weight="bold" textLength="26.80" lengthAdjust="spacingAndGlyphs" >Glycine</text>
<line x1="76.75" y1="458.90" x2="76.75" y2="458.90" stroke="#111" stroke-width="0.8" />
<line x1="73.45" y1="458.90" x2="80.05" y2="458.90" stroke="#111" stroke-width="0.9" />
<line x1="73.45" y1="458.90" x2="80.05" y2="458.90" stroke="#111" stroke-width="0.9" />
<circle cx="70.85" cy="458.90" r="1.9" fill="#000" stroke="none" stroke-width="0"/>
<circle cx="77.35" cy="458.90" r="1.9" fill="#000" stroke="none" stroke-width="0"/>
<circle cx="83.55" cy="458.90" r="1.9" fill="#000" stroke="none" stroke-width="0"/>
<line x1="76.75" y1="458.90" x2="76.75" y2="463.10" stroke="#111" stroke-width="0.9" />
<rect x="94.40" y="412.75" width="15.50" height="46.15" fill="#808080" stroke="#111" stroke-width="0.9" />
<line x1="102.15" y1="400.29" x2="102.15" y2="425.67" stroke="#111" stroke-width="0.8" />
<line x1="98.85" y1="400.29" x2="105.45" y2="400.29" stroke="#111" stroke-width="0.9" />
<line x1="98.85" y1="425.67" x2="105.45" y2="425.67" stroke="#111" stroke-width="0.9" />
<circle cx="102.15" cy="402.60" r="1.9" fill="#000" stroke="none" stroke-width="0"/>
<circle cx="102.15" cy="409.52" r="1.9" fill="#000" stroke="none" stroke-width="0"/>
<circle cx="102.15" cy="426.59" r="1.9" fill="#000" stroke="none" stroke-width="0"/>
<line x1="102.15" y1="458.90" x2="102.15" y2="463.10" stroke="#111" stroke-width="0.9" />
<rect x="118.40" y="451.05" width="15.90" height="7.85" fill="#808080" stroke="#111" stroke-width="0.9" />
<line x1="126.35" y1="445.05" x2="126.35" y2="456.13" stroke="#111" stroke-width="0.8" />
<line x1="123.05" y1="445.05" x2="129.65" y2="445.05" stroke="#111" stroke-width="0.9" />
<line x1="123.05" y1="456.13" x2="129.65" y2="456.13" stroke="#111" stroke-width="0.9" />
<circle cx="122.85" cy="445.98" r="1.9" fill="#000" stroke="none" stroke-width="0"/>
<circle cx="130.85" cy="449.67" r="1.9" fill="#000" stroke="none" stroke-width="0"/>
<circle cx="126.85" cy="455.21" r="1.9" fill="#000" stroke="none" stroke-width="0"/>
<line x1="126.35" y1="458.90" x2="126.35" y2="463.10" stroke="#111" stroke-width="0.9" />
<rect x="143.50" y="411.37" width="15.80" height="47.53" fill="#808080" stroke="#111" stroke-width="0.9" />
<line x1="151.40" y1="397.98" x2="151.40" y2="424.29" stroke="#111" stroke-width="0.8" />
<line x1="148.10" y1="397.98" x2="154.70" y2="397.98" stroke="#111" stroke-width="0.9" />
<line x1="148.10" y1="424.29" x2="154.70" y2="424.29" stroke="#111" stroke-width="0.9" />
<circle cx="151.40" cy="397.06" r="1.9" fill="#000" stroke="none" stroke-width="0"/>
<circle cx="151.40" cy="413.21" r="1.9" fill="#000" stroke="none" stroke-width="0"/>
<circle cx="151.40" cy="422.90" r="1.9" fill="#000" stroke="none" stroke-width="0"/>
<line x1="151.40" y1="458.90" x2="151.40" y2="463.10" stroke="#111" stroke-width="0.9" />
<rect x="168.30" y="421.52" width="15.90" height="37.38" fill="#808080" stroke="#111" stroke-width="0.9" />
<line x1="176.25" y1="411.37" x2="176.25" y2="430.75" stroke="#111" stroke-width="0.8" />
<line x1="172.95" y1="411.37" x2="179.55" y2="411.37" stroke="#111" stroke-width="0.9" />
<line x1="172.95" y1="430.75" x2="179.55" y2="430.75" stroke="#111" stroke-width="0.9" />
<circle cx="172.55" cy="414.13" r="1.9" fill="#000" stroke="none" stroke-width="0"/>
<circle cx="179.75" cy="417.37" r="1.9" fill="#000" stroke="none" stroke-width="0"/>
<circle cx="176.65" cy="431.67" r="1.9" fill="#000" stroke="none" stroke-width="0"/>
<line x1="176.25" y1="458.90" x2="176.25" y2="463.10" stroke="#111" stroke-width="0.9" />
<rect x="193.10" y="395.21" width="15.70" height="63.69" fill="#808080" stroke="#111" stroke-width="0.9" />
<line x1="200.95" y1="384.14" x2="200.95" y2="404.44" stroke="#111" stroke-width="0.8" />
<line x1="197.65" y1="384.14" x2="204.25" y2="384.14" stroke="#111" stroke-width="0.9" />
<line x1="197.65" y1="404.44" x2="204.25" y2="404.44" stroke="#111" stroke-width="0.9" />
<circle cx="200.95" cy="386.91" r="1.9" fill="#000" stroke="none" stroke-width="0"/>
<circle cx="200.95" cy="390.14" r="1.9" fill="#000" stroke="none" stroke-width="0"/>
<circle cx="200.95" cy="406.29" r="1.9" fill="#000" stroke="none" stroke-width="0"/>
<line x1="200.95" y1="458.90" x2="200.95" y2="463.10" stroke="#111" stroke-width="0.9" />
<line x1="60.20" y1="366.60" x2="60.20" y2="459.35" stroke="#111" stroke-width="1.0" />
<line x1="59.75" y1="458.90" x2="217.40" y2="458.90" stroke="#111" stroke-width="1.1" />
<line x1="56.10" y1="458.90" x2="60.20" y2="458.90" stroke="#111" stroke-width="0.9" />
<text x="54.80" y="461.30" font-size="7.0" text-anchor="end" fill="#111" >0.0</text>
<line x1="56.10" y1="435.82" x2="60.20" y2="435.82" stroke="#111" stroke-width="0.9" />
<text x="54.80" y="438.22" font-size="7.0" text-anchor="end" fill="#111" >0.5</text>
<line x1="56.10" y1="412.75" x2="60.20" y2="412.75" stroke="#111" stroke-width="0.9" />
<text x="54.80" y="415.15" font-size="7.0" text-anchor="end" fill="#111" >1.0</text>
<line x1="56.10" y1="389.67" x2="60.20" y2="389.67" stroke="#111" stroke-width="0.9" />
<text x="54.80" y="392.07" font-size="7.0" text-anchor="end" fill="#111" >1.5</text>
<line x1="56.10" y1="366.60" x2="60.20" y2="366.60" stroke="#111" stroke-width="0.9" />
<text x="54.80" y="369.00" font-size="7.0" text-anchor="end" fill="#111" >2.0</text>
<text x="31.50" y="413.70" font-size="8.0" text-anchor="middle" fill="#111" textLength="65.60" lengthAdjust="spacingAndGlyphs" transform="rotate(-90 31.50 413.70)" >Levels of metabolite</text>
<text x="39.00" y="413.70" font-size="8.0" text-anchor="middle" fill="#111" textLength="50.50" lengthAdjust="spacingAndGlyphs" transform="rotate(-90 39.00 413.70)" >(relative to WT)</text>
<text x="79.05" y="468.90" font-size="7.4" text-anchor="end" fill="#111" transform="rotate(-45 79.05 468.90)" >mock</text>
<text x="97.95" y="468.90" font-size="7.4" text-anchor="end" fill="#111" transform="rotate(-45 97.95 468.90)" >WT</text>
<text x="127.65" y="468.90" font-size="7.4" text-anchor="end" fill="#111" transform="rotate(-45 127.65 468.90)" >SLC25A38 KO</text>
<text x="153.20" y="468.90" font-size="7.4" text-anchor="end" fill="#111" transform="rotate(-45 153.20 468.90)" >SFXN1</text>
<text x="177.55" y="468.90" font-size="7.4" text-anchor="end" fill="#111" transform="rotate(-45 177.55 468.90)" >SHMT1 KO</text>
<text x="202.75" y="468.90" font-size="7.4" text-anchor="end" fill="#111" transform="rotate(-45 202.75 468.90)" >SHMT2 KO</text>
<text x="139.40" y="344.40" font-size="8.9" text-anchor="middle" fill="#111" >PMP, MitoIP</text>
<text x="26.40" y="359.80" font-size="24" text-anchor="start" fill="#000" font-weight="bold" >B</text>
<line x1="101.90" y1="361.30" x2="200.80" y2="361.30" stroke="#999" stroke-width="0.9" />
<text x="151.35" y="360.30" font-size="7.6" text-anchor="middle" fill="#111" >ns</text>
<line x1="101.90" y1="371.20" x2="176.30" y2="371.20" stroke="#777" stroke-width="0.9" />
<text x="139.10" y="370.20" font-size="7.6" text-anchor="middle" fill="#111" >ns</text>
<line x1="101.90" y1="381.40" x2="151.10" y2="381.40" stroke="#333" stroke-width="0.9" />
<text x="126.50" y="380.40" font-size="7.6" text-anchor="middle" fill="#111" >ns</text>
<line x1="77.00" y1="397.40" x2="99.80" y2="397.40" stroke="#555" stroke-width="0.9" />
<text x="88.40" y="395.30" font-size="13.5" text-anchor="middle" fill="#111" font-weight="bold" >***</text>
<text x="88.40" y="395.60" font-size="5.2" text-anchor="middle" fill="#222" >p=0.0003</text>
<line x1="103.20" y1="397.40" x2="126.80" y2="397.40" stroke="#555" stroke-width="0.9" />
<text x="115.00" y="395.30" font-size="13.5" text-anchor="middle" fill="#111" font-weight="bold" >**</text>
<text x="115.00" y="395.60" font-size="5.2" text-anchor="middle" fill="#222" >p=0.0016</text>
<rect x="267.30" y="442.31" width="15.60" height="16.49" fill="#808080" stroke="#111" stroke-width="0.9" />
<line x1="275.10" y1="438.04" x2="275.10" y2="446.59" stroke="#111" stroke-width="0.8" />
<line x1="271.80" y1="438.04" x2="278.40" y2="438.04" stroke="#111" stroke-width="0.9" />
<line x1="271.80" y1="446.59" x2="278.40" y2="446.59" stroke="#111" stroke-width="0.9" />
<circle cx="271.40" cy="438.65" r="1.9" fill="#000" stroke="none" stroke-width="0"/>
<circle cx="279.00" cy="440.48" r="1.9" fill="#000" stroke="none" stroke-width="0"/>
<circle cx="275.40" cy="445.98" r="1.9" fill="#000" stroke="none" stroke-width="0"/>
<line x1="275.10" y1="458.80" x2="275.10" y2="463.00" stroke="#111" stroke-width="0.9" />
<rect x="291.80" y="398.34" width="15.70" height="60.46" fill="#808080" stroke="#111" stroke-width="0.9" />
<line x1="299.65" y1="394.68" x2="299.65" y2="400.79" stroke="#111" stroke-width="0.8" />
<line x1="296.35" y1="394.68" x2="302.95" y2="394.68" stroke="#111" stroke-width="0.9" />
<line x1="296.35" y1="400.79" x2="302.95" y2="400.79" stroke="#111" stroke-width="0.9" />
<circle cx="296.45" cy="395.29" r="1.9" fill="#000" stroke="none" stroke-width="0"/>
<circle cx="303.95" cy="397.12" r="1.9" fill="#000" stroke="none" stroke-width="0"/>
<circle cx="299.65" cy="401.40" r="1.9" fill="#000" stroke="none" stroke-width="0"/>
<line x1="299.65" y1="458.80" x2="299.65" y2="463.00" stroke="#111" stroke-width="0.9" />
<rect x="316.40" y="436.21" width="15.70" height="22.59" fill="#808080" stroke="#111" stroke-width="0.9" />
<circle cx="318.05" cy="435.59" r="1.9" fill="#000" stroke="none" stroke-width="0"/>
<circle cx="324.35" cy="434.37" r="1.9" fill="#000" stroke="none" stroke-width="0"/>
<circle cx="330.35" cy="434.98" r="1.9" fill="#000" stroke="none" stroke-width="0"/>
<line x1="324.25" y1="458.80" x2="324.25" y2="463.00" stroke="#111" stroke-width="0.9" />
<rect x="341.10" y="378.80" width="15.60" height="80.00" fill="#808080" stroke="#111" stroke-width="0.9" />
<line x1="348.90" y1="373.31" x2="348.90" y2="383.08" stroke="#111" stroke-width="0.8" />
<line x1="345.60" y1="373.31" x2="352.20" y2="373.31" stroke="#111" stroke-width="0.9" />
<line x1="345.60" y1="383.08" x2="352.20" y2="383.08" stroke="#111" stroke-width="0.9" />
<circle cx="345.30" cy="374.53" r="1.9" fill="#000" stroke="none" stroke-width="0"/>
<circle cx="352.60" cy="376.97" r="1.9" fill="#000" stroke="none" stroke-width="0"/>
<circle cx="348.90" cy="383.08" r="1.9" fill="#000" stroke="none" stroke-width="0"/>
<line x1="348.90" y1="458.80" x2="348.90" y2="463.00" stroke="#111" stroke-width="0.9" />
<rect x="365.70" y="388.57" width="15.70" height="70.23" fill="#808080" stroke="#111" stroke-width="0.9" />
<line x1="373.55" y1="377.58" x2="373.55" y2="397.12" stroke="#111" stroke-width="0.8" />
<line x1="370.25" y1="377.58" x2="376.85" y2="377.58" stroke="#111" stroke-width="0.9" />
<line x1="370.25" y1="397.12" x2="376.85" y2="397.12" stroke="#111" stroke-width="0.9" />
<circle cx="369.85" cy="380.02" r="1.9" fill="#000" stroke="none" stroke-width="0"/>
<circle cx="377.35" cy="383.08" r="1.9" fill="#000" stroke="none" stroke-width="0"/>
<circle cx="373.55" cy="398.34" r="1.9" fill="#000" stroke="none" stroke-width="0"/>
<line x1="373.55" y1="458.80" x2="373.55" y2="463.00" stroke="#111" stroke-width="0.9" />
<rect x="390.40" y="400.79" width="15.60" height="58.01" fill="#808080" stroke="#111" stroke-width="0.9" />
<line x1="398.20" y1="397.73" x2="398.20" y2="402.01" stroke="#111" stroke-width="0.8" />
<line x1="394.90" y1="397.73" x2="401.50" y2="397.73" stroke="#111" stroke-width="0.9" />
<line x1="394.90" y1="402.01" x2="401.50" y2="402.01" stroke="#111" stroke-width="0.9" />
<circle cx="392.30" cy="401.40" r="1.9" fill="#000" stroke="none" stroke-width="0"/>
<circle cx="398.30" cy="398.34" r="1.9" fill="#000" stroke="none" stroke-width="0"/>
<circle cx="404.30" cy="400.18" r="1.9" fill="#000" stroke="none" stroke-width="0"/>
<line x1="398.20" y1="458.80" x2="398.20" y2="463.00" stroke="#111" stroke-width="0.9" />
<line x1="258.00" y1="367.20" x2="258.00" y2="459.25" stroke="#111" stroke-width="1.0" />
<line x1="257.55" y1="458.80" x2="414.60" y2="458.80" stroke="#111" stroke-width="1.1" />
<line x1="253.90" y1="458.80" x2="258.00" y2="458.80" stroke="#111" stroke-width="0.9" />
<text x="252.60" y="461.20" font-size="7.0" text-anchor="end" fill="#111" >0.0</text>
<line x1="253.90" y1="428.27" x2="258.00" y2="428.27" stroke="#111" stroke-width="0.9" />
<text x="252.60" y="430.67" font-size="7.0" text-anchor="end" fill="#111" >0.5</text>
<line x1="253.90" y1="397.73" x2="258.00" y2="397.73" stroke="#111" stroke-width="0.9" />
<text x="252.60" y="400.13" font-size="7.0" text-anchor="end" fill="#111" >1.0</text>
<line x1="253.90" y1="367.20" x2="258.00" y2="367.20" stroke="#111" stroke-width="0.9" />
<text x="252.60" y="369.60" font-size="7.0" text-anchor="end" fill="#111" >1.5</text>
<text x="232.60" y="413.30" font-size="8.0" text-anchor="middle" fill="#111" textLength="65.60" lengthAdjust="spacingAndGlyphs" transform="rotate(-90 232.60 413.30)" >Levels of metabolite</text>
<text x="240.40" y="413.30" font-size="8.0" text-anchor="middle" fill="#111" textLength="50.50" lengthAdjust="spacingAndGlyphs" transform="rotate(-90 240.40 413.30)" >(relative to WT)</text>
<text x="277.40" y="468.80" font-size="7.4" text-anchor="end" fill="#111" transform="rotate(-45 277.40 468.80)" >mock</text>
<text x="295.45" y="468.80" font-size="7.4" text-anchor="end" fill="#111" transform="rotate(-45 295.45 468.80)" >WT</text>
<text x="325.55" y="468.80" font-size="7.4" text-anchor="end" fill="#111" transform="rotate(-45 325.55 468.80)" >SLC25A38 KO</text>
<text x="350.70" y="468.80" font-size="7.4" text-anchor="end" fill="#111" transform="rotate(-45 350.70 468.80)" >SFXN1</text>
<text x="374.85" y="468.80" font-size="7.4" text-anchor="end" fill="#111" transform="rotate(-45 374.85 468.80)" >SHMT1 KO</text>
<text x="400.00" y="468.80" font-size="7.4" text-anchor="end" fill="#111" transform="rotate(-45 400.00 468.80)" >SHMT2 KO</text>
<text x="336.70" y="328.00" font-size="8.8" text-anchor="middle" fill="#111" >PLP, MitoIP</text>
<text x="217.50" y="361.00" font-size="24" text-anchor="start" fill="#000" font-weight="bold" >C</text>
<line x1="299.20" y1="345.10" x2="398.00" y2="345.10" stroke="#555" stroke-width="0.9" />
<text x="348.60" y="344.20" font-size="7.6" text-anchor="middle" fill="#111" >ns</text>
<line x1="299.20" y1="356.20" x2="373.80" y2="356.20" stroke="#444" stroke-width="0.9" />
<text x="336.50" y="355.20" font-size="7.6" text-anchor="middle" fill="#111" >ns</text>
<line x1="276.70" y1="384.10" x2="297.10" y2="384.10" stroke="#555" stroke-width="0.9" />
<text x="286.90" y="385.70" font-size="14.4" text-anchor="middle" fill="#111" font-weight="bold" >****</text>
<line x1="301.20" y1="384.10" x2="324.40" y2="384.10" stroke="#555" stroke-width="0.9" />
<text x="312.80" y="385.70" font-size="14.4" text-anchor="middle" fill="#111" font-weight="bold" >****</text>
<line x1="299.60" y1="370.40" x2="348.90" y2="370.40" stroke="#555" stroke-width="0.9" />
<text x="324.25" y="369.20" font-size="14.4" text-anchor="middle" fill="#111" font-weight="bold" >**</text>
<text x="324.25" y="369.90" font-size="5.2" text-anchor="middle" fill="#222" >p=0.0016</text>
<rect x="465.40" y="413.14" width="15.70" height="46.16" fill="#808080" stroke="#111" stroke-width="0.9" />
<line x1="473.25" y1="399.01" x2="473.25" y2="424.92" stroke="#111" stroke-width="0.8" />
<line x1="469.95" y1="399.01" x2="476.55" y2="399.01" stroke="#111" stroke-width="0.9" />
<line x1="469.95" y1="424.92" x2="476.55" y2="424.92" stroke="#111" stroke-width="0.9" />
<circle cx="473.25" cy="399.01" r="1.9" fill="#000" stroke="none" stroke-width="0"/>
<circle cx="473.25" cy="412.67" r="1.9" fill="#000" stroke="none" stroke-width="0"/>
<circle cx="473.25" cy="424.92" r="1.9" fill="#000" stroke="none" stroke-width="0"/>
<line x1="473.25" y1="459.30" x2="473.25" y2="463.50" stroke="#111" stroke-width="0.9" />
<rect x="490.20" y="419.26" width="15.90" height="40.04" fill="#808080" stroke="#111" stroke-width="0.9" />
<line x1="498.15" y1="414.08" x2="498.15" y2="423.03" stroke="#111" stroke-width="0.8" />
<line x1="494.85" y1="414.08" x2="501.45" y2="414.08" stroke="#111" stroke-width="0.9" />
<line x1="494.85" y1="423.03" x2="501.45" y2="423.03" stroke="#111" stroke-width="0.9" />
<circle cx="494.45" cy="415.03" r="1.9" fill="#000" stroke="none" stroke-width="0"/>
<circle cx="502.35" cy="418.32" r="1.9" fill="#000" stroke="none" stroke-width="0"/>
<circle cx="498.65" cy="423.03" r="1.9" fill="#000" stroke="none" stroke-width="0"/>
<line x1="498.15" y1="459.30" x2="498.15" y2="463.50" stroke="#111" stroke-width="0.9" />
<rect x="515.50" y="403.25" width="15.70" height="56.05" fill="#808080" stroke="#111" stroke-width="0.9" />
<line x1="523.35" y1="383.00" x2="523.35" y2="423.03" stroke="#111" stroke-width="0.8" />
<line x1="520.05" y1="383.00" x2="526.65" y2="383.00" stroke="#111" stroke-width="0.9" />
<line x1="520.05" y1="423.03" x2="526.65" y2="423.03" stroke="#111" stroke-width="0.9" />
<circle cx="519.55" cy="391.00" r="1.9" fill="#000" stroke="none" stroke-width="0"/>
<circle cx="527.15" cy="391.00" r="1.9" fill="#000" stroke="none" stroke-width="0"/>
<circle cx="523.35" cy="425.39" r="1.9" fill="#000" stroke="none" stroke-width="0"/>
<line x1="523.35" y1="459.30" x2="523.35" y2="463.50" stroke="#111" stroke-width="0.9" />
<rect x="540.80" y="403.25" width="15.60" height="56.05" fill="#808080" stroke="#111" stroke-width="0.9" />
<line x1="548.60" y1="380.17" x2="548.60" y2="425.86" stroke="#111" stroke-width="0.8" />
<line x1="545.30" y1="380.17" x2="551.90" y2="380.17" stroke="#111" stroke-width="0.9" />
<line x1="545.30" y1="425.86" x2="551.90" y2="425.86" stroke="#111" stroke-width="0.9" />
<circle cx="545.10" cy="388.18" r="1.9" fill="#000" stroke="none" stroke-width="0"/>
<circle cx="552.40" cy="391.48" r="1.9" fill="#000" stroke="none" stroke-width="0"/>
<circle cx="548.60" cy="429.16" r="1.9" fill="#000" stroke="none" stroke-width="0"/>
<line x1="548.60" y1="459.30" x2="548.60" y2="463.50" stroke="#111" stroke-width="0.9" />
<rect x="566.10" y="402.31" width="15.60" height="56.99" fill="#808080" stroke="#111" stroke-width="0.9" />
<line x1="573.90" y1="392.42" x2="573.90" y2="410.32" stroke="#111" stroke-width="0.8" />
<line x1="570.60" y1="392.42" x2="577.20" y2="392.42" stroke="#111" stroke-width="0.9" />
<line x1="570.60" y1="410.32" x2="577.20" y2="410.32" stroke="#111" stroke-width="0.9" />
<circle cx="573.90" cy="391.48" r="1.9" fill="#000" stroke="none" stroke-width="0"/>
<circle cx="573.90" cy="404.19" r="1.9" fill="#000" stroke="none" stroke-width="0"/>
<circle cx="573.90" cy="408.43" r="1.9" fill="#000" stroke="none" stroke-width="0"/>
<line x1="573.90" y1="459.30" x2="573.90" y2="463.50" stroke="#111" stroke-width="0.9" />
<line x1="456.20" y1="365.10" x2="456.20" y2="459.75" stroke="#111" stroke-width="1.0" />
<line x1="455.75" y1="459.30" x2="586.50" y2="459.30" stroke="#111" stroke-width="1.1" />
<line x1="452.10" y1="459.30" x2="456.20" y2="459.30" stroke="#111" stroke-width="0.9" />
<text x="450.80" y="461.70" font-size="7.0" text-anchor="end" fill="#111" >0.0</text>
<line x1="452.10" y1="435.75" x2="456.20" y2="435.75" stroke="#111" stroke-width="0.9" />
<text x="450.80" y="438.15" font-size="7.0" text-anchor="end" fill="#111" >0.5</text>
<line x1="452.10" y1="412.20" x2="456.20" y2="412.20" stroke="#111" stroke-width="0.9" />
<text x="450.80" y="414.60" font-size="7.0" text-anchor="end" fill="#111" >1.0</text>
<line x1="452.10" y1="388.65" x2="456.20" y2="388.65" stroke="#111" stroke-width="0.9" />
<text x="450.80" y="391.05" font-size="7.0" text-anchor="end" fill="#111" >1.5</text>
<line x1="452.10" y1="365.10" x2="456.20" y2="365.10" stroke="#111" stroke-width="0.9" />
<text x="450.80" y="367.50" font-size="7.0" text-anchor="end" fill="#111" >2.0</text>
<text x="427.50" y="413.80" font-size="8.0" text-anchor="middle" fill="#111" textLength="65.60" lengthAdjust="spacingAndGlyphs" transform="rotate(-90 427.50 413.80)" >Levels of metabolite</text>
<text x="434.60" y="413.80" font-size="8.0" text-anchor="middle" fill="#111" textLength="50.50" lengthAdjust="spacingAndGlyphs" transform="rotate(-90 434.60 413.80)" >(relative to WT)</text>
<text x="469.05" y="469.30" font-size="7.4" text-anchor="end" fill="#111" transform="rotate(-45 469.05 469.30)" >WT</text>
<text x="499.45" y="469.30" font-size="7.4" text-anchor="end" fill="#111" transform="rotate(-45 499.45 469.30)" >SLC25A38 KO</text>
<text x="525.15" y="469.30" font-size="7.4" text-anchor="end" fill="#111" transform="rotate(-45 525.15 469.30)" >SFXN1</text>
<text x="549.90" y="469.30" font-size="7.4" text-anchor="end" fill="#111" transform="rotate(-45 549.90 469.30)" >SHMT1 KO</text>
<text x="575.70" y="469.30" font-size="7.4" text-anchor="end" fill="#111" transform="rotate(-45 575.70 469.30)" >SHMT2 KO</text>
<text x="524.00" y="330.60" font-size="8.8" text-anchor="middle" fill="#111" >PLP, whole cell lysate</text>
<text x="433.00" y="360.00" font-size="24" text-anchor="start" fill="#000" font-weight="bold" >D</text>
<line x1="472.90" y1="359.80" x2="574.00" y2="359.80" stroke="#555" stroke-width="0.9" />
<text x="523.45" y="358.80" font-size="7.6" text-anchor="middle" fill="#111" >ns</text>
<line x1="472.90" y1="369.90" x2="548.70" y2="369.90" stroke="#aaa" stroke-width="0.9" />
<text x="510.80" y="368.90" font-size="7.6" text-anchor="middle" fill="#111" >ns</text>
<line x1="472.90" y1="380.30" x2="523.40" y2="380.30" stroke="#555" stroke-width="0.9" />
<text x="498.15" y="379.30" font-size="7.6" text-anchor="middle" fill="#111" >ns</text>
<line x1="472.90" y1="394.30" x2="498.60" y2="394.30" stroke="#555" stroke-width="0.9" />
<text x="485.75" y="393.30" font-size="7.6" text-anchor="middle" fill="#111" >ns</text>
<text x="29.50" y="544.60" font-size="24" text-anchor="start" fill="#000" font-weight="bold" >E</text>
<circle cx="29.10" cy="569.70" r="1.85" fill="#9b9b9b" stroke="#1a1a1a" stroke-width="0.75"/>
<circle cx="46.10" cy="571.30" r="1.85" fill="#9b9b9b" stroke="#1a1a1a" stroke-width="0.75"/>
<circle cx="71.50" cy="592.70" r="1.85" fill="#9b9b9b" stroke="#1a1a1a" stroke-width="0.75"/>
<circle cx="36.50" cy="598.80" r="1.85" fill="#9b9b9b" stroke="#1a1a1a" stroke-width="0.75"/>
<circle cx="68.30" cy="637.20" r="1.85" fill="#9b9b9b" stroke="#1a1a1a" stroke-width="0.75"/>
<circle cx="67.30" cy="636.40" r="1.85" fill="#9b9b9b" stroke="#1a1a1a" stroke-width="0.75"/>
<circle cx="31.30" cy="640.00" r="1.85" fill="#9b9b9b" stroke="#1a1a1a" stroke-width="0.75"/>
<circle cx="77.60" cy="644.90" r="1.85" fill="#9b9b9b" stroke="#1a1a1a" stroke-width="0.75"/>
<circle cx="159.00" cy="604.90" r="1.85" fill="#9b9b9b" stroke="#1a1a1a" stroke-width="0.75"/>
<circle cx="152.60" cy="612.60" r="1.85" fill="#9b9b9b" stroke="#1a1a1a" stroke-width="0.75"/>
<circle cx="170.10" cy="614.50" r="1.85" fill="#9b9b9b" stroke="#1a1a1a" stroke-width="0.75"/>
<circle cx="160.30" cy="621.50" r="1.85" fill="#9b9b9b" stroke="#1a1a1a" stroke-width="0.75"/>
<circle cx="152.90" cy="623.80" r="1.85" fill="#9b9b9b" stroke="#1a1a1a" stroke-width="0.75"/>
<circle cx="130.10" cy="631.90" r="1.85" fill="#9b9b9b" stroke="#1a1a1a" stroke-width="0.75"/>
<circle cx="122.80" cy="637.80" r="1.85" fill="#9b9b9b" stroke="#1a1a1a" stroke-width="0.75"/>
<circle cx="125.90" cy="637.10" r="1.85" fill="#9b9b9b" stroke="#1a1a1a" stroke-width="0.75"/>
<circle cx="135.90" cy="635.70" r="1.85" fill="#9b9b9b" stroke="#1a1a1a" stroke-width="0.75"/>
<circle cx="142.90" cy="636.10" r="1.85" fill="#9b9b9b" stroke="#1a1a1a" stroke-width="0.75"/>
<circle cx="146.80" cy="635.50" r="1.85" fill="#9b9b9b" stroke="#1a1a1a" stroke-width="0.75"/>
<circle cx="179.40" cy="637.80" r="1.85" fill="#9b9b9b" stroke="#1a1a1a" stroke-width="0.75"/>
<circle cx="127.20" cy="644.10" r="1.85" fill="#9b9b9b" stroke="#1a1a1a" stroke-width="0.75"/>
<circle cx="126.30" cy="656.60" r="1.85" fill="#9b9b9b" stroke="#1a1a1a" stroke-width="0.75"/>
<circle cx="140.80" cy="664.10" r="1.85" fill="#9b9b9b" stroke="#1a1a1a" stroke-width="0.75"/>
<circle cx="125.10" cy="668.50" r="1.85" fill="#9b9b9b" stroke="#1a1a1a" stroke-width="0.75"/>
<circle cx="135.00" cy="671.60" r="1.85" fill="#9b9b9b" stroke="#1a1a1a" stroke-width="0.75"/>
<circle cx="166.90" cy="667.10" r="1.85" fill="#9b9b9b" stroke="#1a1a1a" stroke-width="0.75"/>
<circle cx="168.90" cy="665.50" r="1.85" fill="#9b9b9b" stroke="#1a1a1a" stroke-width="0.75"/>
<circle cx="119.40" cy="682.80" r="1.85" fill="#9b9b9b" stroke="#1a1a1a" stroke-width="0.75"/>
<circle cx="150.80" cy="693.40" r="1.85" fill="#9b9b9b" stroke="#1a1a1a" stroke-width="0.75"/>
<circle cx="163.80" cy="699.30" r="1.85" fill="#9b9b9b" stroke="#1a1a1a" stroke-width="0.75"/>
<circle cx="159.30" cy="704.20" r="1.85" fill="#9b9b9b" stroke="#1a1a1a" stroke-width="0.75"/>
<circle cx="163.70" cy="705.80" r="1.85" fill="#9b9b9b" stroke="#1a1a1a" stroke-width="0.75"/>
<circle cx="138.10" cy="702.10" r="1.85" fill="#9b9b9b" stroke="#1a1a1a" stroke-width="0.75"/>
<circle cx="175.90" cy="720.20" r="1.85" fill="#9b9b9b" stroke="#1a1a1a" stroke-width="0.75"/>
<circle cx="140.10" cy="719.40" r="1.85" fill="#9b9b9b" stroke="#1a1a1a" stroke-width="0.75"/>
<circle cx="133.30" cy="715.90" r="1.85" fill="#9b9b9b" stroke="#1a1a1a" stroke-width="0.75"/>
<circle cx="130.40" cy="707.90" r="1.85" fill="#9b9b9b" stroke="#1a1a1a" stroke-width="0.75"/>
<circle cx="128.00" cy="711.10" r="1.85" fill="#9b9b9b" stroke="#1a1a1a" stroke-width="0.75"/>
<circle cx="127.20" cy="718.10" r="1.85" fill="#9b9b9b" stroke="#1a1a1a" stroke-width="0.75"/>
<circle cx="124.80" cy="719.70" r="1.85" fill="#9b9b9b" stroke="#1a1a1a" stroke-width="0.75"/>
<circle cx="123.20" cy="721.80" r="1.85" fill="#9b9b9b" stroke="#1a1a1a" stroke-width="0.75"/>
<circle cx="126.10" cy="723.90" r="1.85" fill="#9b9b9b" stroke="#1a1a1a" stroke-width="0.75"/>
<circle cx="124.50" cy="725.80" r="1.85" fill="#9b9b9b" stroke="#1a1a1a" stroke-width="0.75"/>
<circle cx="115.00" cy="694.40" r="1.85" fill="#9b9b9b" stroke="#1a1a1a" stroke-width="0.75"/>
<circle cx="118.80" cy="696.80" r="1.85" fill="#9b9b9b" stroke="#1a1a1a" stroke-width="0.75"/>
<circle cx="115.70" cy="700.70" r="1.85" fill="#9b9b9b" stroke="#1a1a1a" stroke-width="0.75"/>
<circle cx="120.90" cy="701.50" r="1.85" fill="#9b9b9b" stroke="#1a1a1a" stroke-width="0.75"/>
<circle cx="118.50" cy="702.90" r="1.85" fill="#9b9b9b" stroke="#1a1a1a" stroke-width="0.75"/>
<circle cx="119.70" cy="712.60" r="1.85" fill="#9b9b9b" stroke="#1a1a1a" stroke-width="0.75"/>
<circle cx="120.20" cy="715.60" r="1.85" fill="#9b9b9b" stroke="#1a1a1a" stroke-width="0.75"/>
<circle cx="127.60" cy="718.70" r="1.85" fill="#9b9b9b" stroke="#1a1a1a" stroke-width="0.75"/>
<circle cx="122.30" cy="722.20" r="1.85" fill="#9b9b9b" stroke="#1a1a1a" stroke-width="0.75"/>
<circle cx="111.80" cy="719.90" r="1.85" fill="#9b9b9b" stroke="#1a1a1a" stroke-width="0.75"/>
<circle cx="114.50" cy="726.10" r="1.85" fill="#9b9b9b" stroke="#1a1a1a" stroke-width="0.75"/>
<circle cx="112.70" cy="716.10" r="1.85" fill="#9b9b9b" stroke="#1a1a1a" stroke-width="0.75"/>
<circle cx="115.30" cy="718.70" r="1.85" fill="#9b9b9b" stroke="#1a1a1a" stroke-width="0.75"/>
<circle cx="117.10" cy="721.30" r="1.85" fill="#9b9b9b" stroke="#1a1a1a" stroke-width="0.75"/>
<circle cx="113.60" cy="724.80" r="1.85" fill="#9b9b9b" stroke="#1a1a1a" stroke-width="0.75"/>
<circle cx="110.10" cy="727.50" r="1.85" fill="#9b9b9b" stroke="#1a1a1a" stroke-width="0.75"/>
<circle cx="108.30" cy="724.80" r="1.85" fill="#9b9b9b" stroke="#1a1a1a" stroke-width="0.75"/>
<circle cx="111.00" cy="721.30" r="1.85" fill="#9b9b9b" stroke="#1a1a1a" stroke-width="0.75"/>
<circle cx="116.50" cy="727.80" r="1.85" fill="#9b9b9b" stroke="#1a1a1a" stroke-width="0.75"/>
<circle cx="119.50" cy="725.50" r="1.85" fill="#9b9b9b" stroke="#1a1a1a" stroke-width="0.75"/>
<circle cx="77.30" cy="644.80" r="1.85" fill="#9b9b9b" stroke="#1a1a1a" stroke-width="0.75"/>
<circle cx="81.70" cy="654.10" r="1.85" fill="#9b9b9b" stroke="#1a1a1a" stroke-width="0.75"/>
<circle cx="61.90" cy="664.10" r="1.85" fill="#9b9b9b" stroke="#1a1a1a" stroke-width="0.75"/>
<circle cx="65.90" cy="667.40" r="1.85" fill="#9b9b9b" stroke="#1a1a1a" stroke-width="0.75"/>
<circle cx="78.90" cy="671.20" r="1.85" fill="#9b9b9b" stroke="#1a1a1a" stroke-width="0.75"/>
<circle cx="94.70" cy="671.80" r="1.85" fill="#9b9b9b" stroke="#1a1a1a" stroke-width="0.75"/>
<circle cx="81.70" cy="681.60" r="1.85" fill="#9b9b9b" stroke="#1a1a1a" stroke-width="0.75"/>
<circle cx="88.70" cy="687.20" r="1.85" fill="#9b9b9b" stroke="#1a1a1a" stroke-width="0.75"/>
<circle cx="53.10" cy="690.30" r="1.85" fill="#9b9b9b" stroke="#1a1a1a" stroke-width="0.75"/>
<circle cx="83.80" cy="696.80" r="1.85" fill="#9b9b9b" stroke="#1a1a1a" stroke-width="0.75"/>
<circle cx="59.30" cy="701.20" r="1.85" fill="#9b9b9b" stroke="#1a1a1a" stroke-width="0.75"/>
<circle cx="69.10" cy="700.10" r="1.85" fill="#9b9b9b" stroke="#1a1a1a" stroke-width="0.75"/>
<circle cx="93.80" cy="702.10" r="1.85" fill="#9b9b9b" stroke="#1a1a1a" stroke-width="0.75"/>
<circle cx="104.80" cy="703.00" r="1.85" fill="#9b9b9b" stroke="#1a1a1a" stroke-width="0.75"/>
<circle cx="100.40" cy="705.90" r="1.85" fill="#9b9b9b" stroke="#1a1a1a" stroke-width="0.75"/>
<circle cx="80.80" cy="706.80" r="1.85" fill="#9b9b9b" stroke="#1a1a1a" stroke-width="0.75"/>
<circle cx="93.10" cy="708.40" r="1.85" fill="#9b9b9b" stroke="#1a1a1a" stroke-width="0.75"/>
<circle cx="96.10" cy="708.20" r="1.85" fill="#9b9b9b" stroke="#1a1a1a" stroke-width="0.75"/>
<circle cx="95.70" cy="713.50" r="1.85" fill="#9b9b9b" stroke="#1a1a1a" stroke-width="0.75"/>
<circle cx="75.90" cy="713.80" r="1.85" fill="#9b9b9b" stroke="#1a1a1a" stroke-width="0.75"/>
<circle cx="81.20" cy="718.20" r="1.85" fill="#9b9b9b" stroke="#1a1a1a" stroke-width="0.75"/>
<circle cx="88.70" cy="720.60" r="1.85" fill="#9b9b9b" stroke="#1a1a1a" stroke-width="0.75"/>
<circle cx="91.30" cy="719.60" r="1.85" fill="#9b9b9b" stroke="#1a1a1a" stroke-width="0.75"/>
<circle cx="93.10" cy="723.40" r="1.85" fill="#9b9b9b" stroke="#1a1a1a" stroke-width="0.75"/>
<circle cx="98.30" cy="719.90" r="1.85" fill="#9b9b9b" stroke="#1a1a1a" stroke-width="0.75"/>
<circle cx="102.20" cy="721.00" r="1.85" fill="#9b9b9b" stroke="#1a1a1a" stroke-width="0.75"/>
<circle cx="97.80" cy="723.40" r="1.85" fill="#9b9b9b" stroke="#1a1a1a" stroke-width="0.75"/>
<circle cx="100.40" cy="726.10" r="1.85" fill="#9b9b9b" stroke="#1a1a1a" stroke-width="0.75"/>
<circle cx="102.70" cy="724.80" r="1.85" fill="#9b9b9b" stroke="#1a1a1a" stroke-width="0.75"/>
<circle cx="104.80" cy="728.30" r="1.85" fill="#9b9b9b" stroke="#1a1a1a" stroke-width="0.75"/>
<circle cx="106.60" cy="726.60" r="1.85" fill="#9b9b9b" stroke="#1a1a1a" stroke-width="0.75"/>
<circle cx="103.50" cy="727.50" r="1.85" fill="#9b9b9b" stroke="#1a1a1a" stroke-width="0.75"/>
<circle cx="109.50" cy="729.00" r="1.85" fill="#9b9b9b" stroke="#1a1a1a" stroke-width="0.75"/>
<circle cx="35.00" cy="631.90" r="1.85" fill="#d81e1e" stroke="#1a1a1a" stroke-width="0.75"/>
<line x1="3.00" y1="730.00" x2="212.40" y2="730.00" stroke="#000" stroke-width="1.5" />
<line x1="107.50" y1="542.90" x2="107.50" y2="730.70" stroke="#000" stroke-width="1.5" />
<line x1="3.10" y1="729.50" x2="3.10" y2="734.80" stroke="#000" stroke-width="1.3" />
<text x="3.10" y="744.40" font-size="8.2" text-anchor="middle" fill="#111" >-3</text>
<line x1="37.90" y1="729.50" x2="37.90" y2="734.80" stroke="#000" stroke-width="1.3" />
<text x="37.90" y="744.40" font-size="8.2" text-anchor="middle" fill="#111" >-2</text>
<line x1="72.70" y1="729.50" x2="72.70" y2="734.80" stroke="#000" stroke-width="1.3" />
<text x="72.70" y="744.40" font-size="8.2" text-anchor="middle" fill="#111" >-1</text>
<line x1="107.50" y1="729.50" x2="107.50" y2="734.80" stroke="#000" stroke-width="1.3" />
<text x="107.50" y="744.40" font-size="8.2" text-anchor="middle" fill="#111" >0</text>
<line x1="142.30" y1="729.50" x2="142.30" y2="734.80" stroke="#000" stroke-width="1.3" />
<text x="142.30" y="744.40" font-size="8.2" text-anchor="middle" fill="#111" >1</text>
<line x1="177.10" y1="729.50" x2="177.10" y2="734.80" stroke="#000" stroke-width="1.3" />
<text x="177.10" y="744.40" font-size="8.2" text-anchor="middle" fill="#111" >2</text>
<line x1="211.90" y1="729.50" x2="211.90" y2="734.80" stroke="#000" stroke-width="1.3" />
<text x="211.90" y="744.40" font-size="8.2" text-anchor="middle" fill="#111" >3</text>
<line x1="102.20" y1="542.90" x2="107.50" y2="542.90" stroke="#000" stroke-width="1.3" />
<text x="100.60" y="545.80" font-size="8.2" text-anchor="end" fill="#111" >6</text>
<line x1="102.20" y1="605.40" x2="107.50" y2="605.40" stroke="#000" stroke-width="1.3" />
<text x="100.60" y="608.30" font-size="8.2" text-anchor="end" fill="#111" >4</text>
<line x1="102.20" y1="667.80" x2="107.50" y2="667.80" stroke="#000" stroke-width="1.3" />
<text x="100.60" y="670.70" font-size="8.2" text-anchor="end" fill="#111" >2</text>
<text x="116.90" y="564.10" font-size="8.6" text-anchor="middle" fill="#111" textLength="36.00" lengthAdjust="spacingAndGlyphs" transform="rotate(-90 116.90 564.10)" >-log10(p)</text>
<text x="113.50" y="756.80" font-size="9.26" text-anchor="middle" fill="#111" textLength="104.00" lengthAdjust="spacingAndGlyphs" >log2 (SLC25A38 KO/WT)</text>
<text x="14.10" y="565.80" font-size="6.6" text-anchor="start" fill="#1a1a1a" textLength="51.70" lengthAdjust="spacingAndGlyphs" stroke="#1a1a1a" stroke-width="0.12">Methylnicotinamide</text>
<text x="21.70" y="607.40" font-size="6.6" text-anchor="start" fill="#1a1a1a" textLength="54.10" lengthAdjust="spacingAndGlyphs" stroke="#1a1a1a" stroke-width="0.12">carbamoyl aspartate</text>
<text x="26.80" y="626.80" font-size="6.6" text-anchor="start" fill="#1a1a1a" textLength="11.70" lengthAdjust="spacingAndGlyphs" stroke="#1a1a1a" stroke-width="0.12">PLP</text>
<text x="46.90" y="632.90" font-size="6.6" text-anchor="start" fill="#1a1a1a" textLength="24.90" lengthAdjust="spacingAndGlyphs" stroke="#1a1a1a" stroke-width="0.12">aspartate</text>
<text x="18.80" y="646.90" font-size="6.6" text-anchor="start" fill="#1a1a1a" textLength="18.50" lengthAdjust="spacingAndGlyphs" stroke="#1a1a1a" stroke-width="0.12">orotate</text>
<text x="154.80" y="611.70" font-size="6.6" text-anchor="start" fill="#1a1a1a" textLength="20.90" lengthAdjust="spacingAndGlyphs" stroke="#1a1a1a" stroke-width="0.12">arginine</text>
<text x="163.90" y="634.80" font-size="6.6" text-anchor="start" fill="#1a1a1a" textLength="46.80" lengthAdjust="spacingAndGlyphs" stroke="#1a1a1a" stroke-width="0.12">argininosuccinate</text>
<text x="128.60" y="658.80" font-size="6.6" text-anchor="start" fill="#1a1a1a" textLength="21.00" lengthAdjust="spacingAndGlyphs" stroke="#1a1a1a" stroke-width="0.12">tyrosine</text>
<text x="132.90" y="670.10" font-size="6.6" text-anchor="start" fill="#1a1a1a" textLength="28.10" lengthAdjust="spacingAndGlyphs" stroke="#1a1a1a" stroke-width="0.12">tryptophan</text>
<text x="172.70" y="670.10" font-size="6.6" text-anchor="start" fill="#1a1a1a" textLength="23.10" lengthAdjust="spacingAndGlyphs" stroke="#1a1a1a" stroke-width="0.12">ornithine</text>
<text x="168.20" y="702.90" font-size="6.6" text-anchor="start" fill="#1a1a1a" textLength="29.20" lengthAdjust="spacingAndGlyphs" stroke="#1a1a1a" stroke-width="0.12">kynurenine</text>
<text x="234.40" y="544.60" font-size="24" text-anchor="start" fill="#000" font-weight="bold" >F</text>
<circle cx="310.70" cy="567.40" r="1.85" fill="#9b9b9b" stroke="#1a1a1a" stroke-width="0.75"/>
<circle cx="297.60" cy="585.60" r="1.85" fill="#9b9b9b" stroke="#1a1a1a" stroke-width="0.75"/>
<circle cx="310.70" cy="593.30" r="1.85" fill="#9b9b9b" stroke="#1a1a1a" stroke-width="0.75"/>
<circle cx="396.60" cy="603.30" r="1.85" fill="#9b9b9b" stroke="#1a1a1a" stroke-width="0.75"/>
<circle cx="264.70" cy="625.80" r="1.85" fill="#9b9b9b" stroke="#1a1a1a" stroke-width="0.75"/>
<circle cx="350.10" cy="639.60" r="1.85" fill="#9b9b9b" stroke="#1a1a1a" stroke-width="0.75"/>
<circle cx="341.90" cy="645.20" r="1.85" fill="#9b9b9b" stroke="#1a1a1a" stroke-width="0.75"/>
<circle cx="356.80" cy="653.30" r="1.85" fill="#9b9b9b" stroke="#1a1a1a" stroke-width="0.75"/>
<circle cx="360.80" cy="661.50" r="1.85" fill="#9b9b9b" stroke="#1a1a1a" stroke-width="0.75"/>
<circle cx="341.90" cy="662.80" r="1.85" fill="#9b9b9b" stroke="#1a1a1a" stroke-width="0.75"/>
<circle cx="338.00" cy="667.70" r="1.85" fill="#9b9b9b" stroke="#1a1a1a" stroke-width="0.75"/>
<circle cx="332.60" cy="673.30" r="1.85" fill="#9b9b9b" stroke="#1a1a1a" stroke-width="0.75"/>
<circle cx="397.60" cy="641.90" r="1.85" fill="#9b9b9b" stroke="#1a1a1a" stroke-width="0.75"/>
<circle cx="393.90" cy="658.00" r="1.85" fill="#9b9b9b" stroke="#1a1a1a" stroke-width="0.75"/>
<circle cx="417.80" cy="661.20" r="1.85" fill="#9b9b9b" stroke="#1a1a1a" stroke-width="0.75"/>
<circle cx="380.40" cy="663.80" r="1.85" fill="#9b9b9b" stroke="#1a1a1a" stroke-width="0.75"/>
<circle cx="389.70" cy="664.70" r="1.85" fill="#9b9b9b" stroke="#1a1a1a" stroke-width="0.75"/>
<circle cx="378.30" cy="669.90" r="1.85" fill="#9b9b9b" stroke="#1a1a1a" stroke-width="0.75"/>
<circle cx="382.50" cy="669.90" r="1.85" fill="#9b9b9b" stroke="#1a1a1a" stroke-width="0.75"/>
<circle cx="359.90" cy="679.10" r="1.85" fill="#9b9b9b" stroke="#1a1a1a" stroke-width="0.75"/>
<circle cx="358.90" cy="683.40" r="1.85" fill="#9b9b9b" stroke="#1a1a1a" stroke-width="0.75"/>
<circle cx="369.10" cy="682.20" r="1.85" fill="#9b9b9b" stroke="#1a1a1a" stroke-width="0.75"/>
<circle cx="370.80" cy="681.20" r="1.85" fill="#9b9b9b" stroke="#1a1a1a" stroke-width="0.75"/>
<circle cx="372.90" cy="682.60" r="1.85" fill="#9b9b9b" stroke="#1a1a1a" stroke-width="0.75"/>
<circle cx="368.70" cy="686.90" r="1.85" fill="#9b9b9b" stroke="#1a1a1a" stroke-width="0.75"/>
<circle cx="372.60" cy="684.30" r="1.85" fill="#9b9b9b" stroke="#1a1a1a" stroke-width="0.75"/>
<circle cx="380.40" cy="681.70" r="1.85" fill="#9b9b9b" stroke="#1a1a1a" stroke-width="0.75"/>
<circle cx="383.40" cy="680.80" r="1.85" fill="#9b9b9b" stroke="#1a1a1a" stroke-width="0.75"/>
<circle cx="385.70" cy="682.90" r="1.85" fill="#9b9b9b" stroke="#1a1a1a" stroke-width="0.75"/>
<circle cx="391.50" cy="682.20" r="1.85" fill="#9b9b9b" stroke="#1a1a1a" stroke-width="0.75"/>
<circle cx="392.20" cy="684.70" r="1.85" fill="#9b9b9b" stroke="#1a1a1a" stroke-width="0.75"/>
<circle cx="392.70" cy="687.80" r="1.85" fill="#9b9b9b" stroke="#1a1a1a" stroke-width="0.75"/>
<circle cx="377.50" cy="686.90" r="1.85" fill="#9b9b9b" stroke="#1a1a1a" stroke-width="0.75"/>
<circle cx="381.30" cy="686.90" r="1.85" fill="#9b9b9b" stroke="#1a1a1a" stroke-width="0.75"/>
<circle cx="375.70" cy="688.70" r="1.85" fill="#9b9b9b" stroke="#1a1a1a" stroke-width="0.75"/>
<circle cx="379.90" cy="689.60" r="1.85" fill="#9b9b9b" stroke="#1a1a1a" stroke-width="0.75"/>
<circle cx="382.20" cy="690.40" r="1.85" fill="#9b9b9b" stroke="#1a1a1a" stroke-width="0.75"/>
<circle cx="381.30" cy="692.70" r="1.85" fill="#9b9b9b" stroke="#1a1a1a" stroke-width="0.75"/>
<circle cx="383.40" cy="694.50" r="1.85" fill="#9b9b9b" stroke="#1a1a1a" stroke-width="0.75"/>
<circle cx="372.00" cy="695.90" r="1.85" fill="#9b9b9b" stroke="#1a1a1a" stroke-width="0.75"/>
<circle cx="388.80" cy="696.00" r="1.85" fill="#9b9b9b" stroke="#1a1a1a" stroke-width="0.75"/>
<circle cx="359.90" cy="699.20" r="1.85" fill="#9b9b9b" stroke="#1a1a1a" stroke-width="0.75"/>
<circle cx="409.00" cy="685.20" r="1.85" fill="#9b9b9b" stroke="#1a1a1a" stroke-width="0.75"/>
<circle cx="415.50" cy="683.80" r="1.85" fill="#9b9b9b" stroke="#1a1a1a" stroke-width="0.75"/>
<circle cx="369.10" cy="701.50" r="1.85" fill="#9b9b9b" stroke="#1a1a1a" stroke-width="0.75"/>
<circle cx="367.70" cy="702.70" r="1.85" fill="#9b9b9b" stroke="#1a1a1a" stroke-width="0.75"/>
<circle cx="370.80" cy="705.00" r="1.85" fill="#9b9b9b" stroke="#1a1a1a" stroke-width="0.75"/>
<circle cx="382.20" cy="701.00" r="1.85" fill="#9b9b9b" stroke="#1a1a1a" stroke-width="0.75"/>
<circle cx="379.20" cy="703.60" r="1.85" fill="#9b9b9b" stroke="#1a1a1a" stroke-width="0.75"/>
<circle cx="385.30" cy="705.00" r="1.85" fill="#9b9b9b" stroke="#1a1a1a" stroke-width="0.75"/>
<circle cx="352.40" cy="705.70" r="1.85" fill="#9b9b9b" stroke="#1a1a1a" stroke-width="0.75"/>
<circle cx="350.70" cy="705.70" r="1.85" fill="#9b9b9b" stroke="#1a1a1a" stroke-width="0.75"/>
<circle cx="348.00" cy="707.40" r="1.85" fill="#9b9b9b" stroke="#1a1a1a" stroke-width="0.75"/>
<circle cx="344.50" cy="710.90" r="1.85" fill="#9b9b9b" stroke="#1a1a1a" stroke-width="0.75"/>
<circle cx="367.00" cy="709.20" r="1.85" fill="#9b9b9b" stroke="#1a1a1a" stroke-width="0.75"/>
<circle cx="372.20" cy="709.20" r="1.85" fill="#9b9b9b" stroke="#1a1a1a" stroke-width="0.75"/>
<circle cx="376.40" cy="710.20" r="1.85" fill="#9b9b9b" stroke="#1a1a1a" stroke-width="0.75"/>
<circle cx="379.90" cy="710.90" r="1.85" fill="#9b9b9b" stroke="#1a1a1a" stroke-width="0.75"/>
<circle cx="393.90" cy="710.60" r="1.85" fill="#9b9b9b" stroke="#1a1a1a" stroke-width="0.75"/>
<circle cx="400.10" cy="709.70" r="1.85" fill="#9b9b9b" stroke="#1a1a1a" stroke-width="0.75"/>
<circle cx="367.70" cy="712.00" r="1.85" fill="#9b9b9b" stroke="#1a1a1a" stroke-width="0.75"/>
<circle cx="371.70" cy="714.10" r="1.85" fill="#9b9b9b" stroke="#1a1a1a" stroke-width="0.75"/>
<circle cx="330.20" cy="715.00" r="1.85" fill="#9b9b9b" stroke="#1a1a1a" stroke-width="0.75"/>
<circle cx="353.60" cy="714.10" r="1.85" fill="#9b9b9b" stroke="#1a1a1a" stroke-width="0.75"/>
<circle cx="357.70" cy="712.30" r="1.85" fill="#9b9b9b" stroke="#1a1a1a" stroke-width="0.75"/>
<circle cx="358.90" cy="715.30" r="1.85" fill="#9b9b9b" stroke="#1a1a1a" stroke-width="0.75"/>
<circle cx="362.00" cy="712.70" r="1.85" fill="#9b9b9b" stroke="#1a1a1a" stroke-width="0.75"/>
<circle cx="352.40" cy="717.20" r="1.85" fill="#9b9b9b" stroke="#1a1a1a" stroke-width="0.75"/>
<circle cx="354.70" cy="720.60" r="1.85" fill="#9b9b9b" stroke="#1a1a1a" stroke-width="0.75"/>
<circle cx="370.80" cy="717.10" r="1.85" fill="#9b9b9b" stroke="#1a1a1a" stroke-width="0.75"/>
<circle cx="382.20" cy="715.30" r="1.85" fill="#9b9b9b" stroke="#1a1a1a" stroke-width="0.75"/>
<circle cx="386.20" cy="715.50" r="1.85" fill="#9b9b9b" stroke="#1a1a1a" stroke-width="0.75"/>
<circle cx="387.40" cy="718.50" r="1.85" fill="#9b9b9b" stroke="#1a1a1a" stroke-width="0.75"/>
<circle cx="369.10" cy="720.20" r="1.85" fill="#9b9b9b" stroke="#1a1a1a" stroke-width="0.75"/>
<circle cx="374.80" cy="721.60" r="1.85" fill="#9b9b9b" stroke="#1a1a1a" stroke-width="0.75"/>
<circle cx="362.00" cy="722.00" r="1.85" fill="#9b9b9b" stroke="#1a1a1a" stroke-width="0.75"/>
<circle cx="360.60" cy="724.60" r="1.85" fill="#9b9b9b" stroke="#1a1a1a" stroke-width="0.75"/>
<circle cx="363.80" cy="725.10" r="1.85" fill="#9b9b9b" stroke="#1a1a1a" stroke-width="0.75"/>
<circle cx="366.40" cy="724.60" r="1.85" fill="#9b9b9b" stroke="#1a1a1a" stroke-width="0.75"/>
<circle cx="362.60" cy="727.20" r="1.85" fill="#9b9b9b" stroke="#1a1a1a" stroke-width="0.75"/>
<circle cx="365.90" cy="727.20" r="1.85" fill="#9b9b9b" stroke="#1a1a1a" stroke-width="0.75"/>
<circle cx="367.00" cy="722.50" r="1.85" fill="#9b9b9b" stroke="#1a1a1a" stroke-width="0.75"/>
<circle cx="332.90" cy="664.20" r="1.85" fill="#d81e1e" stroke="#1a1a1a" stroke-width="0.75"/>
<line x1="228.20" y1="730.00" x2="433.40" y2="730.00" stroke="#000" stroke-width="1.5" />
<line x1="365.20" y1="546.50" x2="365.20" y2="730.70" stroke="#000" stroke-width="1.5" />
<line x1="228.00" y1="729.50" x2="228.00" y2="734.80" stroke="#000" stroke-width="1.3" />
<text x="228.00" y="744.40" font-size="8.2" text-anchor="middle" fill="#111" >-8</text>
<line x1="262.20" y1="729.50" x2="262.20" y2="734.80" stroke="#000" stroke-width="1.3" />
<text x="262.20" y="744.40" font-size="8.2" text-anchor="middle" fill="#111" >-6</text>
<line x1="296.40" y1="729.50" x2="296.40" y2="734.80" stroke="#000" stroke-width="1.3" />
<text x="296.40" y="744.40" font-size="8.2" text-anchor="middle" fill="#111" >-4</text>
<line x1="330.60" y1="729.50" x2="330.60" y2="734.80" stroke="#000" stroke-width="1.3" />
<text x="330.60" y="744.40" font-size="8.2" text-anchor="middle" fill="#111" >-2</text>
<line x1="364.80" y1="729.50" x2="364.80" y2="734.80" stroke="#000" stroke-width="1.3" />
<text x="364.80" y="744.40" font-size="8.2" text-anchor="middle" fill="#111" >0</text>
<line x1="399.00" y1="729.50" x2="399.00" y2="734.80" stroke="#000" stroke-width="1.3" />
<text x="399.00" y="744.40" font-size="8.2" text-anchor="middle" fill="#111" >2</text>
<line x1="433.20" y1="729.50" x2="433.20" y2="734.80" stroke="#000" stroke-width="1.3" />
<text x="433.20" y="744.40" font-size="8.2" text-anchor="middle" fill="#111" >4</text>
<line x1="360.40" y1="693.40" x2="365.20" y2="693.40" stroke="#000" stroke-width="1.3" />
<text x="358.60" y="696.30" font-size="8.2" text-anchor="end" fill="#111" >1</text>
<line x1="360.40" y1="656.80" x2="365.20" y2="656.80" stroke="#000" stroke-width="1.3" />
<text x="358.60" y="659.70" font-size="8.2" text-anchor="end" fill="#111" >2</text>
<line x1="360.40" y1="620.20" x2="365.20" y2="620.20" stroke="#000" stroke-width="1.3" />
<text x="358.60" y="623.10" font-size="8.2" text-anchor="end" fill="#111" >3</text>
<line x1="360.40" y1="583.60" x2="365.20" y2="583.60" stroke="#000" stroke-width="1.3" />
<text x="358.60" y="586.50" font-size="8.2" text-anchor="end" fill="#111" >4</text>
<line x1="360.40" y1="547.00" x2="365.20" y2="547.00" stroke="#000" stroke-width="1.3" />
<text x="358.60" y="549.90" font-size="8.2" text-anchor="end" fill="#111" >5</text>
<text x="376.60" y="563.00" font-size="9.5" text-anchor="middle" fill="#111" textLength="36.80" lengthAdjust="spacingAndGlyphs" transform="rotate(-90 376.60 563.00)" >-log10(p)</text>
<text x="337.50" y="755.10" font-size="9.2" text-anchor="middle" fill="#111" textLength="102.70" lengthAdjust="spacingAndGlyphs" >log2 (SLC25A38 KO/WT)</text>
<text x="315.00" y="569.80" font-size="6.6" text-anchor="start" fill="#1a1a1a" textLength="46.00" lengthAdjust="spacingAndGlyphs" stroke="#1a1a1a" stroke-width="0.12">argininosuccinate</text>
<text x="301.60" y="588.00" font-size="6.6" text-anchor="start" fill="#1a1a1a" textLength="45.40" lengthAdjust="spacingAndGlyphs" stroke="#1a1a1a" stroke-width="0.12">guanidinoacetate</text>
<text x="315.00" y="595.80" font-size="6.6" text-anchor="start" fill="#1a1a1a" textLength="53.40" lengthAdjust="spacingAndGlyphs" stroke="#1a1a1a" stroke-width="0.12">carbamoyl aspartate</text>
<text x="400.70" y="605.80" font-size="6.6" text-anchor="start" fill="#1a1a1a" textLength="25.10" lengthAdjust="spacingAndGlyphs" stroke="#1a1a1a" stroke-width="0.12">glutamine</text>
<text x="269.00" y="628.30" font-size="6.6" text-anchor="start" fill="#1a1a1a" textLength="21.50" lengthAdjust="spacingAndGlyphs" stroke="#1a1a1a" stroke-width="0.12">citrulline</text>
<text x="320.30" y="647.60" font-size="6.6" text-anchor="start" fill="#1a1a1a" textLength="18.60" lengthAdjust="spacingAndGlyphs" stroke="#1a1a1a" stroke-width="0.12">orotate</text>
<text x="401.40" y="644.60" font-size="6.6" text-anchor="start" fill="#1a1a1a" textLength="20.80" lengthAdjust="spacingAndGlyphs" stroke="#1a1a1a" stroke-width="0.12">arginine</text>
<text x="421.60" y="664.00" font-size="6.6" text-anchor="start" fill="#1a1a1a" textLength="22.70" lengthAdjust="spacingAndGlyphs" stroke="#1a1a1a" stroke-width="0.12">ornithine</text>
<text x="326.80" y="660.60" font-size="6.6" text-anchor="start" fill="#1a1a1a" textLength="11.00" lengthAdjust="spacingAndGlyphs" stroke="#1a1a1a" stroke-width="0.12">PLP</text>
<text x="292.90" y="676.00" font-size="6.6" text-anchor="start" fill="#1a1a1a" textLength="36.90" lengthAdjust="spacingAndGlyphs" stroke="#1a1a1a" stroke-width="0.12">dihydroorotate</text>
<text x="418.40" y="684.80" font-size="6.6" text-anchor="start" fill="#1a1a1a" textLength="13.10" lengthAdjust="spacingAndGlyphs" stroke="#1a1a1a" stroke-width="0.12">GDP</text>
<text x="454.80" y="545.40" font-size="24" text-anchor="start" fill="#000" font-weight="bold" >G</text>
<line x1="497.18" y1="661.23" x2="497.18" y2="667.41" stroke="#8e44ad" stroke-width="0.8" opacity="0.55"/>
<line x1="494.98" y1="661.23" x2="499.38" y2="661.23" stroke="#8e44ad" stroke-width="0.8" opacity="0.55"/>
<line x1="494.98" y1="667.41" x2="499.38" y2="667.41" stroke="#8e44ad" stroke-width="0.8" opacity="0.55"/>
<line x1="512.48" y1="665.74" x2="512.48" y2="670.68" stroke="#8e44ad" stroke-width="0.8" opacity="0.55"/>
<line x1="510.28" y1="665.74" x2="514.68" y2="665.74" stroke="#8e44ad" stroke-width="0.8" opacity="0.55"/>
<line x1="510.28" y1="670.68" x2="514.68" y2="670.68" stroke="#8e44ad" stroke-width="0.8" opacity="0.55"/>
<line x1="527.32" y1="667.10" x2="527.32" y2="672.04" stroke="#8e44ad" stroke-width="0.8" opacity="0.55"/>
<line x1="525.12" y1="667.10" x2="529.52" y2="667.10" stroke="#8e44ad" stroke-width="0.8" opacity="0.55"/>
<line x1="525.12" y1="672.04" x2="529.52" y2="672.04" stroke="#8e44ad" stroke-width="0.8" opacity="0.55"/>
<line x1="542.15" y1="695.65" x2="542.15" y2="698.12" stroke="#8e44ad" stroke-width="0.8" opacity="0.55"/>
<line x1="539.95" y1="695.65" x2="544.35" y2="695.65" stroke="#8e44ad" stroke-width="0.8" opacity="0.55"/>
<line x1="539.95" y1="698.12" x2="544.35" y2="698.12" stroke="#8e44ad" stroke-width="0.8" opacity="0.55"/>
<line x1="557.22" y1="694.54" x2="557.22" y2="697.01" stroke="#8e44ad" stroke-width="0.8" opacity="0.55"/>
<line x1="555.02" y1="694.54" x2="559.42" y2="694.54" stroke="#8e44ad" stroke-width="0.8" opacity="0.55"/>
<line x1="555.02" y1="697.01" x2="559.42" y2="697.01" stroke="#8e44ad" stroke-width="0.8" opacity="0.55"/>
<line x1="572.28" y1="693.67" x2="572.28" y2="696.15" stroke="#8e44ad" stroke-width="0.8" opacity="0.55"/>
<line x1="570.08" y1="693.67" x2="574.48" y2="693.67" stroke="#8e44ad" stroke-width="0.8" opacity="0.55"/>
<line x1="570.08" y1="696.15" x2="574.48" y2="696.15" stroke="#8e44ad" stroke-width="0.8" opacity="0.55"/>
<line x1="587.58" y1="613.95" x2="587.58" y2="634.96" stroke="#8e44ad" stroke-width="0.8" opacity="0.55"/>
<line x1="585.38" y1="613.95" x2="589.78" y2="613.95" stroke="#8e44ad" stroke-width="0.8" opacity="0.55"/>
<line x1="585.38" y1="634.96" x2="589.78" y2="634.96" stroke="#8e44ad" stroke-width="0.8" opacity="0.55"/>
<line x1="602.88" y1="623.22" x2="602.88" y2="650.41" stroke="#8e44ad" stroke-width="0.8" opacity="0.55"/>
<line x1="600.68" y1="623.22" x2="605.08" y2="623.22" stroke="#8e44ad" stroke-width="0.8" opacity="0.55"/>
<line x1="600.68" y1="650.41" x2="605.08" y2="650.41" stroke="#8e44ad" stroke-width="0.8" opacity="0.55"/>
<line x1="617.72" y1="636.82" x2="617.72" y2="657.83" stroke="#8e44ad" stroke-width="0.8" opacity="0.55"/>
<line x1="615.52" y1="636.82" x2="619.92" y2="636.82" stroke="#8e44ad" stroke-width="0.8" opacity="0.55"/>
<line x1="615.52" y1="657.83" x2="619.92" y2="657.83" stroke="#8e44ad" stroke-width="0.8" opacity="0.55"/>
<line x1="633.48" y1="713.45" x2="633.48" y2="717.16" stroke="#8e44ad" stroke-width="0.8" opacity="0.55"/>
<line x1="631.28" y1="713.45" x2="635.68" y2="713.45" stroke="#8e44ad" stroke-width="0.8" opacity="0.55"/>
<line x1="631.28" y1="717.16" x2="635.68" y2="717.16" stroke="#8e44ad" stroke-width="0.8" opacity="0.55"/>
<line x1="648.32" y1="714.07" x2="648.32" y2="717.78" stroke="#8e44ad" stroke-width="0.8" opacity="0.55"/>
<line x1="646.12" y1="714.07" x2="650.52" y2="714.07" stroke="#8e44ad" stroke-width="0.8" opacity="0.55"/>
<line x1="646.12" y1="717.78" x2="650.52" y2="717.78" stroke="#8e44ad" stroke-width="0.8" opacity="0.55"/>
<line x1="663.15" y1="714.38" x2="663.15" y2="718.08" stroke="#8e44ad" stroke-width="0.8" opacity="0.55"/>
<line x1="660.95" y1="714.38" x2="665.35" y2="714.38" stroke="#8e44ad" stroke-width="0.8" opacity="0.55"/>
<line x1="660.95" y1="718.08" x2="665.35" y2="718.08" stroke="#8e44ad" stroke-width="0.8" opacity="0.55"/>
<path d="M494.98 659.16H499.38L497.18 663.34Z" fill="#8e44ad"/>
<path d="M494.98 665.34H499.38L497.18 669.52Z" fill="#8e44ad"/>
<path d="M494.98 668.43H499.38L497.18 672.61Z" fill="#8e44ad"/>
<path d="M510.28 663.49H514.68L512.48 667.67Z" fill="#8e44ad"/>
<path d="M510.28 667.81H514.68L512.48 671.99Z" fill="#8e44ad"/>
<path d="M510.28 671.77H514.68L512.48 675.95Z" fill="#8e44ad"/>
<path d="M525.12 665.34H529.52L527.32 669.52Z" fill="#8e44ad"/>
<path d="M525.12 668.43H529.52L527.32 672.61Z" fill="#8e44ad"/>
<path d="M525.12 671.77H529.52L527.32 675.95Z" fill="#8e44ad"/>
<path d="M539.95 693.77H544.35L542.15 697.95Z" fill="#8e44ad"/>
<path d="M539.95 695.00H544.35L542.15 699.18Z" fill="#8e44ad"/>
<path d="M539.95 697.48H544.35L542.15 701.66Z" fill="#8e44ad"/>
<path d="M555.02 693.15H559.42L557.22 697.33Z" fill="#8e44ad"/>
<path d="M555.02 694.39H559.42L557.22 698.57Z" fill="#8e44ad"/>
<path d="M555.02 696.24H559.42L557.22 700.42Z" fill="#8e44ad"/>
<path d="M570.08 691.91H574.48L572.28 696.09Z" fill="#8e44ad"/>
<path d="M570.08 693.15H574.48L572.28 697.33Z" fill="#8e44ad"/>
<path d="M570.08 695.00H574.48L572.28 699.18Z" fill="#8e44ad"/>
<path d="M585.38 586.24H589.78L587.58 590.42Z" fill="#8e44ad"/>
<path d="M585.38 612.81H589.78L587.58 616.99Z" fill="#8e44ad"/>
<path d="M585.38 649.27H589.78L587.58 653.45Z" fill="#8e44ad"/>
<path d="M600.68 604.16H605.08L602.88 608.34Z" fill="#8e44ad"/>
<path d="M600.68 608.48H605.08L602.88 612.66Z" fill="#8e44ad"/>
<path d="M600.68 637.53H605.08L602.88 641.71Z" fill="#8e44ad"/>
<path d="M615.52 610.03H619.92L617.72 614.21Z" fill="#8e44ad"/>
<path d="M615.52 626.65H619.92L617.72 630.83Z" fill="#8e44ad"/>
<path d="M615.52 635.37H619.92L617.72 639.55Z" fill="#8e44ad"/>
<path d="M631.28 709.84H635.68L633.48 714.02Z" fill="#8e44ad"/>
<path d="M631.28 711.07H635.68L633.48 715.25Z" fill="#8e44ad"/>
<path d="M631.28 713.54H635.68L633.48 717.72Z" fill="#8e44ad"/>
<path d="M646.12 710.45H650.52L648.32 714.63Z" fill="#8e44ad"/>
<path d="M646.12 711.69H650.52L648.32 715.87Z" fill="#8e44ad"/>
<path d="M646.12 714.16H650.52L648.32 718.34Z" fill="#8e44ad"/>
<path d="M660.95 710.45H665.35L663.15 714.63Z" fill="#8e44ad"/>
<path d="M660.95 711.69H665.35L663.15 715.87Z" fill="#8e44ad"/>
<path d="M660.95 714.16H665.35L663.15 718.34Z" fill="#8e44ad"/>
<polyline points="497.18,664.32 512.48,668.21 527.32,669.57 542.15,696.89 557.22,695.78 572.28,694.91 587.58,624.46 602.88,636.82 617.72,647.32 633.48,715.30 648.32,715.92 663.15,716.23" fill="none" stroke="#8e44ad" stroke-width="1.0"/>
<path d="M494.88 662.48H499.48L497.18 666.85Z" fill="#8e44ad"/>
<path d="M510.18 666.37H514.78L512.48 670.74Z" fill="#8e44ad"/>
<path d="M525.02 667.73H529.62L527.32 672.10Z" fill="#8e44ad"/>
<path d="M539.85 695.05H544.45L542.15 699.42Z" fill="#8e44ad"/>
<path d="M554.92 693.94H559.52L557.22 698.31Z" fill="#8e44ad"/>
<path d="M569.98 693.07H574.58L572.28 697.44Z" fill="#8e44ad"/>
<path d="M585.28 622.62H589.88L587.58 626.99Z" fill="#8e44ad"/>
<path d="M600.58 634.98H605.18L602.88 639.35Z" fill="#8e44ad"/>
<path d="M615.42 645.48H620.02L617.72 649.85Z" fill="#8e44ad"/>
<path d="M631.18 713.46H635.78L633.48 717.83Z" fill="#8e44ad"/>
<path d="M646.02 714.08H650.62L648.32 718.45Z" fill="#8e44ad"/>
<path d="M660.85 714.39H665.45L663.15 718.76Z" fill="#8e44ad"/>
<line x1="497.18" y1="657.95" x2="497.18" y2="662.90" stroke="#2eaa3e" stroke-width="0.8" opacity="0.55"/>
<line x1="494.98" y1="657.95" x2="499.38" y2="657.95" stroke="#2eaa3e" stroke-width="0.8" opacity="0.55"/>
<line x1="494.98" y1="662.90" x2="499.38" y2="662.90" stroke="#2eaa3e" stroke-width="0.8" opacity="0.55"/>
<line x1="512.48" y1="660.12" x2="512.48" y2="665.06" stroke="#2eaa3e" stroke-width="0.8" opacity="0.55"/>
<line x1="510.28" y1="660.12" x2="514.68" y2="660.12" stroke="#2eaa3e" stroke-width="0.8" opacity="0.55"/>
<line x1="510.28" y1="665.06" x2="514.68" y2="665.06" stroke="#2eaa3e" stroke-width="0.8" opacity="0.55"/>
<line x1="527.32" y1="660.12" x2="527.32" y2="665.06" stroke="#2eaa3e" stroke-width="0.8" opacity="0.55"/>
<line x1="525.12" y1="660.12" x2="529.52" y2="660.12" stroke="#2eaa3e" stroke-width="0.8" opacity="0.55"/>
<line x1="525.12" y1="665.06" x2="529.52" y2="665.06" stroke="#2eaa3e" stroke-width="0.8" opacity="0.55"/>
<line x1="542.15" y1="689.04" x2="542.15" y2="691.51" stroke="#2eaa3e" stroke-width="0.8" opacity="0.55"/>
<line x1="539.95" y1="689.04" x2="544.35" y2="689.04" stroke="#2eaa3e" stroke-width="0.8" opacity="0.55"/>
<line x1="539.95" y1="691.51" x2="544.35" y2="691.51" stroke="#2eaa3e" stroke-width="0.8" opacity="0.55"/>
<line x1="557.22" y1="688.67" x2="557.22" y2="691.14" stroke="#2eaa3e" stroke-width="0.8" opacity="0.55"/>
<line x1="555.02" y1="688.67" x2="559.42" y2="688.67" stroke="#2eaa3e" stroke-width="0.8" opacity="0.55"/>
<line x1="555.02" y1="691.14" x2="559.42" y2="691.14" stroke="#2eaa3e" stroke-width="0.8" opacity="0.55"/>
<line x1="572.28" y1="688.05" x2="572.28" y2="690.52" stroke="#2eaa3e" stroke-width="0.8" opacity="0.55"/>
<line x1="570.08" y1="688.05" x2="574.48" y2="688.05" stroke="#2eaa3e" stroke-width="0.8" opacity="0.55"/>
<line x1="570.08" y1="690.52" x2="574.48" y2="690.52" stroke="#2eaa3e" stroke-width="0.8" opacity="0.55"/>
<line x1="587.58" y1="634.35" x2="587.58" y2="646.71" stroke="#2eaa3e" stroke-width="0.8" opacity="0.55"/>
<line x1="585.38" y1="634.35" x2="589.78" y2="634.35" stroke="#2eaa3e" stroke-width="0.8" opacity="0.55"/>
<line x1="585.38" y1="646.71" x2="589.78" y2="646.71" stroke="#2eaa3e" stroke-width="0.8" opacity="0.55"/>
<line x1="602.88" y1="655.05" x2="602.88" y2="673.59" stroke="#2eaa3e" stroke-width="0.8" opacity="0.55"/>
<line x1="600.68" y1="655.05" x2="605.08" y2="655.05" stroke="#2eaa3e" stroke-width="0.8" opacity="0.55"/>
<line x1="600.68" y1="673.59" x2="605.08" y2="673.59" stroke="#2eaa3e" stroke-width="0.8" opacity="0.55"/>
<line x1="617.72" y1="661.23" x2="617.72" y2="676.06" stroke="#2eaa3e" stroke-width="0.8" opacity="0.55"/>
<line x1="615.52" y1="661.23" x2="619.92" y2="661.23" stroke="#2eaa3e" stroke-width="0.8" opacity="0.55"/>
<line x1="615.52" y1="676.06" x2="619.92" y2="676.06" stroke="#2eaa3e" stroke-width="0.8" opacity="0.55"/>
<line x1="633.48" y1="714.07" x2="633.48" y2="716.54" stroke="#2eaa3e" stroke-width="0.8" opacity="0.55"/>
<line x1="631.28" y1="714.07" x2="635.68" y2="714.07" stroke="#2eaa3e" stroke-width="0.8" opacity="0.55"/>
<line x1="631.28" y1="716.54" x2="635.68" y2="716.54" stroke="#2eaa3e" stroke-width="0.8" opacity="0.55"/>
<line x1="648.32" y1="714.69" x2="648.32" y2="717.16" stroke="#2eaa3e" stroke-width="0.8" opacity="0.55"/>
<line x1="646.12" y1="714.69" x2="650.52" y2="714.69" stroke="#2eaa3e" stroke-width="0.8" opacity="0.55"/>
<line x1="646.12" y1="717.16" x2="650.52" y2="717.16" stroke="#2eaa3e" stroke-width="0.8" opacity="0.55"/>
<line x1="663.15" y1="715.61" x2="663.15" y2="718.08" stroke="#2eaa3e" stroke-width="0.8" opacity="0.55"/>
<line x1="660.95" y1="715.61" x2="665.35" y2="715.61" stroke="#2eaa3e" stroke-width="0.8" opacity="0.55"/>
<line x1="660.95" y1="718.08" x2="665.35" y2="718.08" stroke="#2eaa3e" stroke-width="0.8" opacity="0.55"/>
<path d="M494.98 654.83H499.38L497.18 650.65Z" fill="#2eaa3e"/>
<path d="M494.98 661.44H499.38L497.18 657.26Z" fill="#2eaa3e"/>
<path d="M494.98 668.06H499.38L497.18 663.88Z" fill="#2eaa3e"/>
<path d="M510.28 658.17H514.68L512.48 653.99Z" fill="#2eaa3e"/>
<path d="M510.28 663.92H514.68L512.48 659.74Z" fill="#2eaa3e"/>
<path d="M510.28 668.86H514.68L512.48 664.68Z" fill="#2eaa3e"/>
<path d="M525.12 658.35H529.52L527.32 654.17Z" fill="#2eaa3e"/>
<path d="M525.12 663.92H529.52L527.32 659.74Z" fill="#2eaa3e"/>
<path d="M525.12 668.86H529.52L527.32 664.68Z" fill="#2eaa3e"/>
<path d="M539.95 689.87H544.35L542.15 685.69Z" fill="#2eaa3e"/>
<path d="M539.95 691.73H544.35L542.15 687.55Z" fill="#2eaa3e"/>
<path d="M539.95 693.58H544.35L542.15 689.40Z" fill="#2eaa3e"/>
<path d="M555.02 689.87H559.42L557.22 685.69Z" fill="#2eaa3e"/>
<path d="M555.02 691.73H559.42L557.22 687.55Z" fill="#2eaa3e"/>
<path d="M555.02 692.96H559.42L557.22 688.78Z" fill="#2eaa3e"/>
<path d="M570.08 689.25H574.48L572.28 685.07Z" fill="#2eaa3e"/>
<path d="M570.08 691.11H574.48L572.28 686.93Z" fill="#2eaa3e"/>
<path d="M570.08 692.34H574.48L572.28 688.16Z" fill="#2eaa3e"/>
<path d="M585.38 599.64H589.78L587.58 595.46Z" fill="#2eaa3e"/>
<path d="M585.38 647.23H589.78L587.58 643.05Z" fill="#2eaa3e"/>
<path d="M585.38 656.50H589.78L587.58 652.32Z" fill="#2eaa3e"/>
<path d="M600.68 629.93H605.08L602.88 625.75Z" fill="#2eaa3e"/>
<path d="M600.68 673.19H605.08L602.88 669.01Z" fill="#2eaa3e"/>
<path d="M600.68 678.13H605.08L602.88 673.95Z" fill="#2eaa3e"/>
<path d="M615.52 644.14H619.92L617.72 639.96Z" fill="#2eaa3e"/>
<path d="M615.52 681.22H619.92L617.72 677.04Z" fill="#2eaa3e"/>
<path d="M615.52 683.69H619.92L617.72 679.51Z" fill="#2eaa3e"/>
<path d="M631.28 716.45H635.68L633.48 712.27Z" fill="#2eaa3e"/>
<path d="M631.28 717.68H635.68L633.48 713.50Z" fill="#2eaa3e"/>
<path d="M631.28 718.30H635.68L633.48 714.12Z" fill="#2eaa3e"/>
<path d="M646.12 717.06H650.52L648.32 712.88Z" fill="#2eaa3e"/>
<path d="M646.12 717.68H650.52L648.32 713.50Z" fill="#2eaa3e"/>
<path d="M646.12 718.30H650.52L648.32 714.12Z" fill="#2eaa3e"/>
<path d="M660.95 717.68H665.35L663.15 713.50Z" fill="#2eaa3e"/>
<path d="M660.95 718.30H665.35L663.15 714.12Z" fill="#2eaa3e"/>
<path d="M660.95 718.92H665.35L663.15 714.74Z" fill="#2eaa3e"/>
<polyline points="497.18,660.43 512.48,662.59 527.32,662.59 542.15,690.27 557.22,689.90 572.28,689.29 587.58,640.53 602.88,664.32 617.72,668.64 633.48,715.30 648.32,715.92 663.15,716.85" fill="none" stroke="#2eaa3e" stroke-width="1.0"/>
<path d="M494.88 662.27H499.48L497.18 657.90Z" fill="#2eaa3e"/>
<path d="M510.18 664.43H514.78L512.48 660.06Z" fill="#2eaa3e"/>
<path d="M525.02 664.43H529.62L527.32 660.06Z" fill="#2eaa3e"/>
<path d="M539.85 692.12H544.45L542.15 687.75Z" fill="#2eaa3e"/>
<path d="M554.92 691.74H559.52L557.22 687.37Z" fill="#2eaa3e"/>
<path d="M569.98 691.13H574.58L572.28 686.76Z" fill="#2eaa3e"/>
<path d="M585.28 642.37H589.88L587.58 638.00Z" fill="#2eaa3e"/>
<path d="M600.58 666.16H605.18L602.88 661.79Z" fill="#2eaa3e"/>
<path d="M615.42 670.49H620.02L617.72 666.12Z" fill="#2eaa3e"/>
<path d="M631.18 717.14H635.78L633.48 712.77Z" fill="#2eaa3e"/>
<path d="M646.02 717.76H650.62L648.32 713.39Z" fill="#2eaa3e"/>
<path d="M660.85 718.69H665.45L663.15 714.32Z" fill="#2eaa3e"/>
<line x1="497.18" y1="697.07" x2="497.18" y2="700.78" stroke="#e03a3a" stroke-width="0.8" opacity="0.55"/>
<line x1="494.98" y1="697.07" x2="499.38" y2="697.07" stroke="#e03a3a" stroke-width="0.8" opacity="0.55"/>
<line x1="494.98" y1="700.78" x2="499.38" y2="700.78" stroke="#e03a3a" stroke-width="0.8" opacity="0.55"/>
<line x1="512.48" y1="698.87" x2="512.48" y2="702.57" stroke="#e03a3a" stroke-width="0.8" opacity="0.55"/>
<line x1="510.28" y1="698.87" x2="514.68" y2="698.87" stroke="#e03a3a" stroke-width="0.8" opacity="0.55"/>
<line x1="510.28" y1="702.57" x2="514.68" y2="702.57" stroke="#e03a3a" stroke-width="0.8" opacity="0.55"/>
<line x1="527.32" y1="699.67" x2="527.32" y2="703.38" stroke="#e03a3a" stroke-width="0.8" opacity="0.55"/>
<line x1="525.12" y1="699.67" x2="529.52" y2="699.67" stroke="#e03a3a" stroke-width="0.8" opacity="0.55"/>
<line x1="525.12" y1="703.38" x2="529.52" y2="703.38" stroke="#e03a3a" stroke-width="0.8" opacity="0.55"/>
<line x1="542.15" y1="712.28" x2="542.15" y2="713.51" stroke="#e03a3a" stroke-width="0.8" opacity="0.55"/>
<line x1="539.95" y1="712.28" x2="544.35" y2="712.28" stroke="#e03a3a" stroke-width="0.8" opacity="0.55"/>
<line x1="539.95" y1="713.51" x2="544.35" y2="713.51" stroke="#e03a3a" stroke-width="0.8" opacity="0.55"/>
<line x1="557.22" y1="712.28" x2="557.22" y2="713.51" stroke="#e03a3a" stroke-width="0.8" opacity="0.55"/>
<line x1="555.02" y1="712.28" x2="559.42" y2="712.28" stroke="#e03a3a" stroke-width="0.8" opacity="0.55"/>
<line x1="555.02" y1="713.51" x2="559.42" y2="713.51" stroke="#e03a3a" stroke-width="0.8" opacity="0.55"/>
<line x1="572.28" y1="712.09" x2="572.28" y2="713.33" stroke="#e03a3a" stroke-width="0.8" opacity="0.55"/>
<line x1="570.08" y1="712.09" x2="574.48" y2="712.09" stroke="#e03a3a" stroke-width="0.8" opacity="0.55"/>
<line x1="570.08" y1="713.33" x2="574.48" y2="713.33" stroke="#e03a3a" stroke-width="0.8" opacity="0.55"/>
<line x1="587.58" y1="683.79" x2="587.58" y2="696.15" stroke="#e03a3a" stroke-width="0.8" opacity="0.55"/>
<line x1="585.38" y1="683.79" x2="589.78" y2="683.79" stroke="#e03a3a" stroke-width="0.8" opacity="0.55"/>
<line x1="585.38" y1="696.15" x2="589.78" y2="696.15" stroke="#e03a3a" stroke-width="0.8" opacity="0.55"/>
<line x1="602.88" y1="690.58" x2="602.88" y2="698.00" stroke="#e03a3a" stroke-width="0.8" opacity="0.55"/>
<line x1="600.68" y1="690.58" x2="605.08" y2="690.58" stroke="#e03a3a" stroke-width="0.8" opacity="0.55"/>
<line x1="600.68" y1="698.00" x2="605.08" y2="698.00" stroke="#e03a3a" stroke-width="0.8" opacity="0.55"/>
<line x1="617.72" y1="693.67" x2="617.72" y2="699.85" stroke="#e03a3a" stroke-width="0.8" opacity="0.55"/>
<line x1="615.52" y1="693.67" x2="619.92" y2="693.67" stroke="#e03a3a" stroke-width="0.8" opacity="0.55"/>
<line x1="615.52" y1="699.85" x2="619.92" y2="699.85" stroke="#e03a3a" stroke-width="0.8" opacity="0.55"/>
<line x1="633.48" y1="719.32" x2="633.48" y2="720.56" stroke="#e03a3a" stroke-width="0.8" opacity="0.55"/>
<line x1="631.28" y1="719.32" x2="635.68" y2="719.32" stroke="#e03a3a" stroke-width="0.8" opacity="0.55"/>
<line x1="631.28" y1="720.56" x2="635.68" y2="720.56" stroke="#e03a3a" stroke-width="0.8" opacity="0.55"/>
<line x1="648.32" y1="720.25" x2="648.32" y2="721.48" stroke="#e03a3a" stroke-width="0.8" opacity="0.55"/>
<line x1="646.12" y1="720.25" x2="650.52" y2="720.25" stroke="#e03a3a" stroke-width="0.8" opacity="0.55"/>
<line x1="646.12" y1="721.48" x2="650.52" y2="721.48" stroke="#e03a3a" stroke-width="0.8" opacity="0.55"/>
<line x1="663.15" y1="720.56" x2="663.15" y2="721.79" stroke="#e03a3a" stroke-width="0.8" opacity="0.55"/>
<line x1="660.95" y1="720.56" x2="665.35" y2="720.56" stroke="#e03a3a" stroke-width="0.8" opacity="0.55"/>
<line x1="660.95" y1="721.79" x2="665.35" y2="721.79" stroke="#e03a3a" stroke-width="0.8" opacity="0.55"/>
<rect x="495.20" y="694.54" width="3.96" height="3.96" fill="#e03a3a"/>
<rect x="495.20" y="697.26" width="3.96" height="3.96" fill="#e03a3a"/>
<rect x="495.20" y="702.01" width="3.96" height="3.96" fill="#e03a3a"/>
<rect x="510.50" y="696.02" width="3.96" height="3.96" fill="#e03a3a"/>
<rect x="510.50" y="698.49" width="3.96" height="3.96" fill="#e03a3a"/>
<rect x="510.50" y="703.75" width="3.96" height="3.96" fill="#e03a3a"/>
<rect x="525.34" y="696.64" width="3.96" height="3.96" fill="#e03a3a"/>
<rect x="525.34" y="699.73" width="3.96" height="3.96" fill="#e03a3a"/>
<rect x="525.34" y="703.75" width="3.96" height="3.96" fill="#e03a3a"/>
<rect x="540.17" y="710.23" width="3.96" height="3.96" fill="#e03a3a"/>
<rect x="540.17" y="710.85" width="3.96" height="3.96" fill="#e03a3a"/>
<rect x="540.17" y="711.47" width="3.96" height="3.96" fill="#e03a3a"/>
<rect x="555.24" y="710.23" width="3.96" height="3.96" fill="#e03a3a"/>
<rect x="555.24" y="710.85" width="3.96" height="3.96" fill="#e03a3a"/>
<rect x="555.24" y="711.47" width="3.96" height="3.96" fill="#e03a3a"/>
<rect x="570.30" y="710.23" width="3.96" height="3.96" fill="#e03a3a"/>
<rect x="570.30" y="710.85" width="3.96" height="3.96" fill="#e03a3a"/>
<rect x="570.30" y="711.47" width="3.96" height="3.96" fill="#e03a3a"/>
<rect x="585.60" y="670.06" width="3.96" height="3.96" fill="#e03a3a"/>
<rect x="585.60" y="686.13" width="3.96" height="3.96" fill="#e03a3a"/>
<rect x="585.60" y="692.93" width="3.96" height="3.96" fill="#e03a3a"/>
<rect x="600.90" y="687.37" width="3.96" height="3.96" fill="#e03a3a"/>
<rect x="600.90" y="692.31" width="3.96" height="3.96" fill="#e03a3a"/>
<rect x="600.90" y="697.26" width="3.96" height="3.96" fill="#e03a3a"/>
<rect x="615.74" y="692.31" width="3.96" height="3.96" fill="#e03a3a"/>
<rect x="615.74" y="694.78" width="3.96" height="3.96" fill="#e03a3a"/>
<rect x="615.74" y="699.11" width="3.96" height="3.96" fill="#e03a3a"/>
<rect x="631.50" y="717.03" width="3.96" height="3.96" fill="#e03a3a"/>
<rect x="631.50" y="718.27" width="3.96" height="3.96" fill="#e03a3a"/>
<rect x="631.50" y="718.89" width="3.96" height="3.96" fill="#e03a3a"/>
<rect x="646.34" y="718.27" width="3.96" height="3.96" fill="#e03a3a"/>
<rect x="646.34" y="718.89" width="3.96" height="3.96" fill="#e03a3a"/>
<rect x="646.34" y="719.50" width="3.96" height="3.96" fill="#e03a3a"/>
<rect x="661.17" y="718.27" width="3.96" height="3.96" fill="#e03a3a"/>
<rect x="661.17" y="719.50" width="3.96" height="3.96" fill="#e03a3a"/>
<rect x="661.17" y="720.12" width="3.96" height="3.96" fill="#e03a3a"/>
<polyline points="497.18,698.93 512.48,700.72 527.32,701.52 542.15,712.89 557.22,712.89 572.28,712.71 587.58,689.97 602.88,694.29 617.72,696.76 633.48,719.94 648.32,720.87 663.15,721.17" fill="none" stroke="#e03a3a" stroke-width="1.0"/>
<rect x="495.11" y="696.86" width="4.14" height="4.14" fill="#e03a3a"/>
<rect x="510.41" y="698.65" width="4.14" height="4.14" fill="#e03a3a"/>
<rect x="525.25" y="699.45" width="4.14" height="4.14" fill="#e03a3a"/>
<rect x="540.08" y="710.82" width="4.14" height="4.14" fill="#e03a3a"/>
<rect x="555.15" y="710.82" width="4.14" height="4.14" fill="#e03a3a"/>
<rect x="570.21" y="710.64" width="4.14" height="4.14" fill="#e03a3a"/>
<rect x="585.51" y="687.90" width="4.14" height="4.14" fill="#e03a3a"/>
<rect x="600.81" y="692.22" width="4.14" height="4.14" fill="#e03a3a"/>
<rect x="615.65" y="694.69" width="4.14" height="4.14" fill="#e03a3a"/>
<rect x="631.41" y="717.87" width="4.14" height="4.14" fill="#e03a3a"/>
<rect x="646.25" y="718.80" width="4.14" height="4.14" fill="#e03a3a"/>
<rect x="661.08" y="719.10" width="4.14" height="4.14" fill="#e03a3a"/>
<line x1="497.18" y1="687.06" x2="497.18" y2="690.77" stroke="#3558b5" stroke-width="0.8" opacity="0.55"/>
<line x1="494.98" y1="687.06" x2="499.38" y2="687.06" stroke="#3558b5" stroke-width="0.8" opacity="0.55"/>
<line x1="494.98" y1="690.77" x2="499.38" y2="690.77" stroke="#3558b5" stroke-width="0.8" opacity="0.55"/>
<line x1="512.48" y1="688.73" x2="512.48" y2="692.44" stroke="#3558b5" stroke-width="0.8" opacity="0.55"/>
<line x1="510.28" y1="688.73" x2="514.68" y2="688.73" stroke="#3558b5" stroke-width="0.8" opacity="0.55"/>
<line x1="510.28" y1="692.44" x2="514.68" y2="692.44" stroke="#3558b5" stroke-width="0.8" opacity="0.55"/>
<line x1="527.32" y1="690.03" x2="527.32" y2="693.74" stroke="#3558b5" stroke-width="0.8" opacity="0.55"/>
<line x1="525.12" y1="690.03" x2="529.52" y2="690.03" stroke="#3558b5" stroke-width="0.8" opacity="0.55"/>
<line x1="525.12" y1="693.74" x2="529.52" y2="693.74" stroke="#3558b5" stroke-width="0.8" opacity="0.55"/>
<line x1="542.15" y1="705.17" x2="542.15" y2="707.64" stroke="#3558b5" stroke-width="0.8" opacity="0.55"/>
<line x1="539.95" y1="705.17" x2="544.35" y2="705.17" stroke="#3558b5" stroke-width="0.8" opacity="0.55"/>
<line x1="539.95" y1="707.64" x2="544.35" y2="707.64" stroke="#3558b5" stroke-width="0.8" opacity="0.55"/>
<line x1="557.22" y1="708.07" x2="557.22" y2="709.93" stroke="#3558b5" stroke-width="0.8" opacity="0.55"/>
<line x1="555.02" y1="708.07" x2="559.42" y2="708.07" stroke="#3558b5" stroke-width="0.8" opacity="0.55"/>
<line x1="555.02" y1="709.93" x2="559.42" y2="709.93" stroke="#3558b5" stroke-width="0.8" opacity="0.55"/>
<line x1="572.28" y1="708.07" x2="572.28" y2="709.93" stroke="#3558b5" stroke-width="0.8" opacity="0.55"/>
<line x1="570.08" y1="708.07" x2="574.48" y2="708.07" stroke="#3558b5" stroke-width="0.8" opacity="0.55"/>
<line x1="570.08" y1="709.93" x2="574.48" y2="709.93" stroke="#3558b5" stroke-width="0.8" opacity="0.55"/>
<line x1="587.58" y1="667.10" x2="587.58" y2="684.40" stroke="#3558b5" stroke-width="0.8" opacity="0.55"/>
<line x1="585.38" y1="667.10" x2="589.78" y2="667.10" stroke="#3558b5" stroke-width="0.8" opacity="0.55"/>
<line x1="585.38" y1="684.40" x2="589.78" y2="684.40" stroke="#3558b5" stroke-width="0.8" opacity="0.55"/>
<line x1="602.88" y1="678.22" x2="602.88" y2="690.58" stroke="#3558b5" stroke-width="0.8" opacity="0.55"/>
<line x1="600.68" y1="678.22" x2="605.08" y2="678.22" stroke="#3558b5" stroke-width="0.8" opacity="0.55"/>
<line x1="600.68" y1="690.58" x2="605.08" y2="690.58" stroke="#3558b5" stroke-width="0.8" opacity="0.55"/>
<line x1="617.72" y1="685.02" x2="617.72" y2="694.91" stroke="#3558b5" stroke-width="0.8" opacity="0.55"/>
<line x1="615.52" y1="685.02" x2="619.92" y2="685.02" stroke="#3558b5" stroke-width="0.8" opacity="0.55"/>
<line x1="615.52" y1="694.91" x2="619.92" y2="694.91" stroke="#3558b5" stroke-width="0.8" opacity="0.55"/>
<line x1="633.48" y1="715.30" x2="633.48" y2="717.78" stroke="#3558b5" stroke-width="0.8" opacity="0.55"/>
<line x1="631.28" y1="715.30" x2="635.68" y2="715.30" stroke="#3558b5" stroke-width="0.8" opacity="0.55"/>
<line x1="631.28" y1="717.78" x2="635.68" y2="717.78" stroke="#3558b5" stroke-width="0.8" opacity="0.55"/>
<line x1="648.32" y1="716.54" x2="648.32" y2="719.01" stroke="#3558b5" stroke-width="0.8" opacity="0.55"/>
<line x1="646.12" y1="716.54" x2="650.52" y2="716.54" stroke="#3558b5" stroke-width="0.8" opacity="0.55"/>
<line x1="646.12" y1="719.01" x2="650.52" y2="719.01" stroke="#3558b5" stroke-width="0.8" opacity="0.55"/>
<line x1="663.15" y1="717.16" x2="663.15" y2="719.63" stroke="#3558b5" stroke-width="0.8" opacity="0.55"/>
<line x1="660.95" y1="717.16" x2="665.35" y2="717.16" stroke="#3558b5" stroke-width="0.8" opacity="0.55"/>
<line x1="660.95" y1="719.63" x2="665.35" y2="719.63" stroke="#3558b5" stroke-width="0.8" opacity="0.55"/>
<circle cx="497.18" cy="686.63" r="2.09" fill="#3558b5"/>
<circle cx="497.18" cy="688.73" r="2.09" fill="#3558b5"/>
<circle cx="497.18" cy="693.18" r="2.09" fill="#3558b5"/>
<circle cx="512.48" cy="688.73" r="2.09" fill="#3558b5"/>
<circle cx="512.48" cy="690.58" r="2.09" fill="#3558b5"/>
<circle cx="512.48" cy="695.22" r="2.09" fill="#3558b5"/>
<circle cx="527.32" cy="689.97" r="2.09" fill="#3558b5"/>
<circle cx="527.32" cy="691.82" r="2.09" fill="#3558b5"/>
<circle cx="527.32" cy="695.22" r="2.09" fill="#3558b5"/>
<circle cx="542.15" cy="704.80" r="2.09" fill="#3558b5"/>
<circle cx="542.15" cy="706.65" r="2.09" fill="#3558b5"/>
<circle cx="542.15" cy="707.89" r="2.09" fill="#3558b5"/>
<circle cx="557.22" cy="708.51" r="2.09" fill="#3558b5"/>
<circle cx="557.22" cy="709.12" r="2.09" fill="#3558b5"/>
<circle cx="557.22" cy="709.74" r="2.09" fill="#3558b5"/>
<circle cx="572.28" cy="708.51" r="2.09" fill="#3558b5"/>
<circle cx="572.28" cy="709.12" r="2.09" fill="#3558b5"/>
<circle cx="572.28" cy="709.74" r="2.09" fill="#3558b5"/>
<circle cx="587.58" cy="636.82" r="2.09" fill="#3558b5"/>
<circle cx="587.58" cy="678.22" r="2.09" fill="#3558b5"/>
<circle cx="587.58" cy="685.64" r="2.09" fill="#3558b5"/>
<circle cx="602.88" cy="659.68" r="2.09" fill="#3558b5"/>
<circle cx="602.88" cy="684.40" r="2.09" fill="#3558b5"/>
<circle cx="602.88" cy="691.82" r="2.09" fill="#3558b5"/>
<circle cx="617.72" cy="676.37" r="2.09" fill="#3558b5"/>
<circle cx="617.72" cy="689.35" r="2.09" fill="#3558b5"/>
<circle cx="617.72" cy="694.91" r="2.09" fill="#3558b5"/>
<circle cx="633.48" cy="715.30" r="2.09" fill="#3558b5"/>
<circle cx="633.48" cy="716.54" r="2.09" fill="#3558b5"/>
<circle cx="633.48" cy="717.78" r="2.09" fill="#3558b5"/>
<circle cx="648.32" cy="717.16" r="2.09" fill="#3558b5"/>
<circle cx="648.32" cy="717.78" r="2.09" fill="#3558b5"/>
<circle cx="648.32" cy="719.01" r="2.09" fill="#3558b5"/>
<circle cx="663.15" cy="717.78" r="2.09" fill="#3558b5"/>
<circle cx="663.15" cy="718.39" r="2.09" fill="#3558b5"/>
<circle cx="663.15" cy="719.63" r="2.09" fill="#3558b5"/>
<polyline points="497.18,688.92 512.48,690.58 527.32,691.88 542.15,706.40 557.22,709.00 572.28,709.00 587.58,675.75 602.88,684.40 617.72,689.97 633.48,716.54 648.32,717.78 663.15,718.39" fill="none" stroke="#3558b5" stroke-width="1.0"/>
<circle cx="497.18" cy="688.92" r="2.18" fill="#3558b5"/>
<circle cx="512.48" cy="690.58" r="2.18" fill="#3558b5"/>
<circle cx="527.32" cy="691.88" r="2.18" fill="#3558b5"/>
<circle cx="542.15" cy="706.40" r="2.18" fill="#3558b5"/>
<circle cx="557.22" cy="709.00" r="2.18" fill="#3558b5"/>
<circle cx="572.28" cy="709.00" r="2.18" fill="#3558b5"/>
<circle cx="587.58" cy="675.75" r="2.18" fill="#3558b5"/>
<circle cx="602.88" cy="684.40" r="2.18" fill="#3558b5"/>
<circle cx="617.72" cy="689.97" r="2.18" fill="#3558b5"/>
<circle cx="633.48" cy="716.54" r="2.18" fill="#3558b5"/>
<circle cx="648.32" cy="717.78" r="2.18" fill="#3558b5"/>
<circle cx="663.15" cy="718.39" r="2.18" fill="#3558b5"/>
<line x1="494.40" y1="574.40" x2="494.40" y2="729.40" stroke="#111" stroke-width="1.0" />
<line x1="493.90" y1="729.20" x2="680.50" y2="729.20" stroke="#111" stroke-width="1.1" />
<line x1="491.90" y1="728.90" x2="494.40" y2="728.90" stroke="#111" stroke-width="0.9" />
<text x="491.60" y="731.80" font-size="8.4" text-anchor="end" fill="#111" >0.0</text>
<line x1="491.90" y1="698.00" x2="494.40" y2="698.00" stroke="#111" stroke-width="0.9" />
<text x="491.60" y="700.90" font-size="8.4" text-anchor="end" fill="#111" >0.5</text>
<line x1="491.90" y1="667.10" x2="494.40" y2="667.10" stroke="#111" stroke-width="0.9" />
<text x="491.60" y="670.00" font-size="8.4" text-anchor="end" fill="#111" >1.0</text>
<line x1="491.90" y1="636.20" x2="494.40" y2="636.20" stroke="#111" stroke-width="0.9" />
<text x="491.60" y="639.10" font-size="8.4" text-anchor="end" fill="#111" >1.5</text>
<line x1="491.90" y1="605.30" x2="494.40" y2="605.30" stroke="#111" stroke-width="0.9" />
<text x="491.60" y="608.20" font-size="8.4" text-anchor="end" fill="#111" >2.0</text>
<line x1="491.90" y1="574.40" x2="494.40" y2="574.40" stroke="#111" stroke-width="0.9" />
<text x="491.60" y="577.30" font-size="8.4" text-anchor="end" fill="#111" >2.5</text>
<line x1="494.40" y1="728.90" x2="494.40" y2="731.50" stroke="#111" stroke-width="0.9" />
<text x="494.40" y="738.80" font-size="8.4" text-anchor="middle" fill="#111" >0</text>
<line x1="540.76" y1="728.90" x2="540.76" y2="731.50" stroke="#111" stroke-width="0.9" />
<text x="540.76" y="738.80" font-size="8.4" text-anchor="middle" fill="#111" >20</text>
<line x1="587.12" y1="728.90" x2="587.12" y2="731.50" stroke="#111" stroke-width="0.9" />
<text x="587.12" y="738.80" font-size="8.4" text-anchor="middle" fill="#111" >40</text>
<line x1="633.48" y1="728.90" x2="633.48" y2="731.50" stroke="#111" stroke-width="0.9" />
<text x="633.48" y="738.80" font-size="8.4" text-anchor="middle" fill="#111" >60</text>
<line x1="679.84" y1="728.90" x2="679.84" y2="731.50" stroke="#111" stroke-width="0.9" />
<text x="679.84" y="738.80" font-size="8.4" text-anchor="middle" fill="#111" >80</text>
<text x="586.80" y="750.20" font-size="8.75" text-anchor="middle" fill="#111" textLength="58.00" lengthAdjust="spacingAndGlyphs" >Time (minutes)</text>
<text x="465.20" y="654.00" font-size="8.7" text-anchor="middle" fill="#111" textLength="109.00" lengthAdjust="spacingAndGlyphs" transform="rotate(-90 465.20 654.00)" >Normalized OCR (pmol/min)</text>
<text x="477.00" y="654.00" font-size="8.5" text-anchor="middle" fill="#111" textLength="85.40" lengthAdjust="spacingAndGlyphs" transform="rotate(-90 477.00 654.00)" >relative to WT 1nM pyr</text>
<line x1="513.00" y1="540.50" x2="521.50" y2="540.50" stroke="#8e44ad" stroke-width="0.9" />
<path d="M516.10 539.54H518.50L517.30 541.82Z" fill="#8e44ad"/>
<text x="524.60" y="543.20" font-size="7.3" text-anchor="start" fill="#111" textLength="37.10" lengthAdjust="spacingAndGlyphs" >WT, B6-low</text>
<line x1="513.00" y1="552.00" x2="521.50" y2="552.00" stroke="#3558b5" stroke-width="0.9" />
<circle cx="517.30" cy="552.00" r="1.14" fill="#3558b5"/>
<text x="524.60" y="554.70" font-size="7.3" text-anchor="start" fill="#111" textLength="52.00" lengthAdjust="spacingAndGlyphs" >A38KO,  B6-low</text>
<line x1="513.00" y1="562.80" x2="521.50" y2="562.80" stroke="#2eaa3e" stroke-width="0.9" />
<path d="M516.10 563.76H518.50L517.30 561.48Z" fill="#2eaa3e"/>
<text x="524.60" y="565.50" font-size="7.3" text-anchor="start" fill="#111" textLength="82.30" lengthAdjust="spacingAndGlyphs" >A38KO+ A38-WT, B6-low</text>
<line x1="513.00" y1="574.70" x2="521.50" y2="574.70" stroke="#e03a3a" stroke-width="0.9" />
<rect x="516.22" y="573.62" width="2.16" height="2.16" fill="#e03a3a"/>
<text x="524.60" y="577.40" font-size="7.3" text-anchor="start" fill="#111" textLength="96.70" lengthAdjust="spacingAndGlyphs" >A38KO+ A38-R134C,  B6-low</text>
<text x="538.60" y="625.40" font-size="9.0" text-anchor="middle" fill="#111" textLength="36.20" lengthAdjust="spacingAndGlyphs" transform="rotate(-90 538.60 625.40)" >oligomycin</text>
<path d="M533.2 644.5 L532.1 655.2" stroke="#111" stroke-width="0.9" fill="none"/>
<path d="M530.4 652.6 L532.0 656.8 L534.0 652.9" stroke="#111" stroke-width="0.9" fill="none"/>
<text x="575.00" y="655.20" font-size="9.0" text-anchor="middle" fill="#111" textLength="20.30" lengthAdjust="spacingAndGlyphs" transform="rotate(-90 575.00 655.20)" >FCCP</text>
<path d="M571.6 666.5 L571.6 677.0" stroke="#111" stroke-width="0.9" fill="none"/>
<path d="M569.8 674.2 L571.6 678.2 L573.4 674.2" stroke="#111" stroke-width="0.9" fill="none"/>
<text x="629.40" y="614.90" font-size="9.0" text-anchor="middle" fill="#111" textLength="36.20" lengthAdjust="spacingAndGlyphs" transform="rotate(-90 629.40 614.90)" >Antimycin/</text>
<text x="636.90" y="614.90" font-size="9.0" text-anchor="middle" fill="#111" textLength="33.60" lengthAdjust="spacingAndGlyphs" transform="rotate(-90 636.90 614.90)" >Rotenone</text>
<path d="M624.2 635.8 L620.3 644.2" stroke="#111" stroke-width="0.9" fill="none"/>
<path d="M619.4 640.8 L620.0 644.8 L623.2 642.6" stroke="#111" stroke-width="0.9" fill="none"/>
</svg>
</body></html>
